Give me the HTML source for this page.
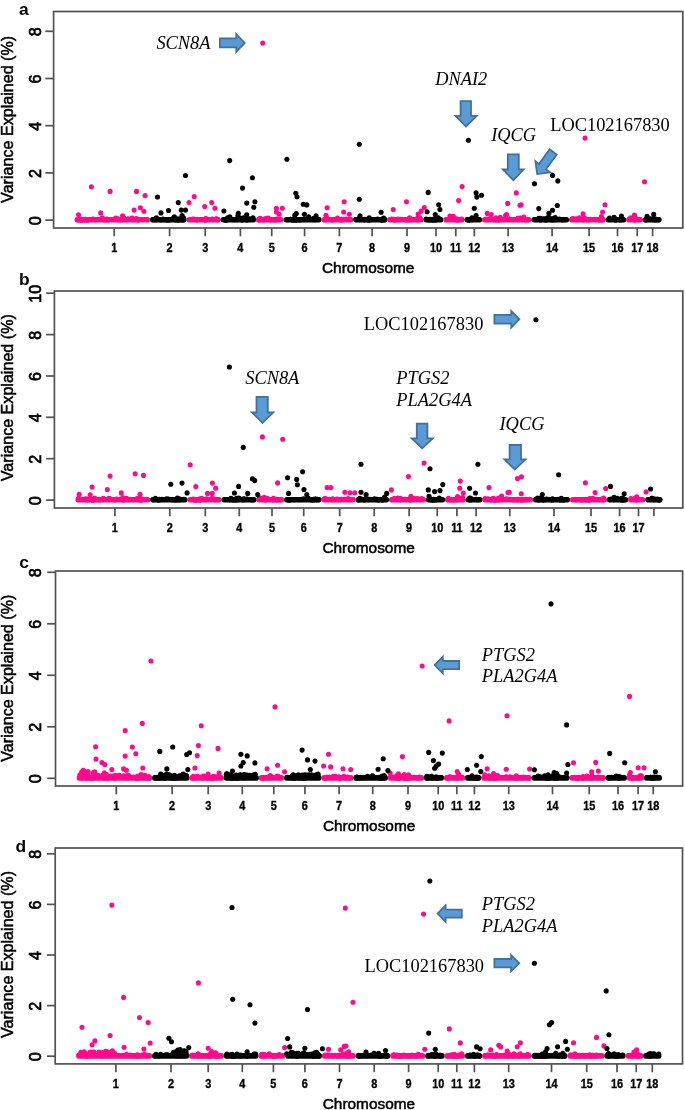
<!DOCTYPE html>
<html><head><meta charset="utf-8"><style>
html,body{margin:0;padding:0;background:#fff;width:685px;height:1110px;overflow:hidden}
svg{display:block;filter:blur(0.35px)}
.s{font-family:"Liberation Sans",sans-serif}
.w{stroke:#000;stroke-width:0.5px}
.w2{stroke:#000;stroke-width:0.7px}
.w3{stroke:#000;stroke-width:0.35px}
.t{font-family:"Liberation Serif",serif}
</style></head><body>
<svg width="685" height="1110" viewBox="0 0 685 1110">
<rect width="685" height="1110" fill="#fff"/>

<g id="pa">
<rect x="74.5" y="216.9" width="75.5" height="5.7" rx="2.5" fill="#ff0a8c"/>
<circle cx="99.8" cy="219.3" r="2.55" fill="#ff0a8c"/>
<circle cx="82.1" cy="219.7" r="2.55" fill="#ff0a8c"/>
<circle cx="81.1" cy="220.1" r="2.55" fill="#ff0a8c"/>
<circle cx="107.6" cy="220" r="2.55" fill="#ff0a8c"/>
<circle cx="106.9" cy="219" r="2.55" fill="#ff0a8c"/>
<circle cx="92.8" cy="219" r="2.55" fill="#ff0a8c"/>
<circle cx="117.7" cy="218.9" r="2.55" fill="#ff0a8c"/>
<circle cx="80.3" cy="218.7" r="2.55" fill="#ff0a8c"/>
<circle cx="87.2" cy="219.7" r="2.55" fill="#ff0a8c"/>
<circle cx="134.5" cy="219.4" r="2.55" fill="#ff0a8c"/>
<circle cx="122" cy="219.5" r="2.55" fill="#ff0a8c"/>
<circle cx="81.5" cy="219.9" r="2.55" fill="#ff0a8c"/>
<circle cx="125" cy="219.7" r="2.55" fill="#ff0a8c"/>
<circle cx="118.3" cy="219.7" r="2.55" fill="#ff0a8c"/>
<circle cx="133" cy="219.8" r="2.55" fill="#ff0a8c"/>
<circle cx="117.5" cy="219.1" r="2.55" fill="#ff0a8c"/>
<circle cx="128.4" cy="218.9" r="2.55" fill="#ff0a8c"/>
<circle cx="85.4" cy="219.2" r="2.55" fill="#ff0a8c"/>
<circle cx="87.7" cy="220.1" r="2.55" fill="#ff0a8c"/>
<circle cx="124.1" cy="218.3" r="2.55" fill="#ff0a8c"/>
<circle cx="138.7" cy="219.3" r="2.55" fill="#ff0a8c"/>
<circle cx="118.9" cy="219.6" r="2.55" fill="#ff0a8c"/>
<circle cx="136.2" cy="218.5" r="2.55" fill="#ff0a8c"/>
<circle cx="123.8" cy="219.3" r="2.55" fill="#ff0a8c"/>
<circle cx="122.6" cy="215.8" r="2.55" fill="#ff0a8c"/>
<circle cx="97.1" cy="219.3" r="2.55" fill="#ff0a8c"/>
<circle cx="78.6" cy="219.9" r="2.55" fill="#ff0a8c"/>
<circle cx="85.3" cy="219.2" r="2.55" fill="#ff0a8c"/>
<circle cx="86.2" cy="219.6" r="2.55" fill="#ff0a8c"/>
<circle cx="138.4" cy="219.6" r="2.55" fill="#ff0a8c"/>
<circle cx="115.7" cy="218" r="2.55" fill="#ff0a8c"/>
<circle cx="137.9" cy="219.6" r="2.55" fill="#ff0a8c"/>
<circle cx="102.3" cy="217.8" r="2.55" fill="#ff0a8c"/>
<circle cx="87.7" cy="219.8" r="2.55" fill="#ff0a8c"/>
<circle cx="93.5" cy="219.4" r="2.55" fill="#ff0a8c"/>
<circle cx="95.5" cy="219.6" r="2.55" fill="#ff0a8c"/>
<circle cx="103" cy="219" r="2.55" fill="#ff0a8c"/>
<circle cx="125.7" cy="219.4" r="2.55" fill="#ff0a8c"/>
<circle cx="124.7" cy="219" r="2.55" fill="#ff0a8c"/>
<circle cx="132" cy="218" r="2.55" fill="#ff0a8c"/>
<circle cx="104.7" cy="220" r="2.55" fill="#ff0a8c"/>
<circle cx="121.7" cy="220" r="2.55" fill="#ff0a8c"/>
<circle cx="91.7" cy="219.7" r="2.55" fill="#ff0a8c"/>
<circle cx="80.8" cy="219.9" r="2.55" fill="#ff0a8c"/>
<circle cx="84.2" cy="220.1" r="2.55" fill="#ff0a8c"/>
<circle cx="138.6" cy="219.9" r="2.55" fill="#ff0a8c"/>
<circle cx="94.8" cy="219.7" r="2.55" fill="#ff0a8c"/>
<rect x="150" y="216.9" width="36.6" height="5.7" rx="2.5" fill="#000"/>
<circle cx="156.4" cy="217.7" r="2.55" fill="#000"/>
<circle cx="167.2" cy="220" r="2.55" fill="#000"/>
<circle cx="155.8" cy="219.8" r="2.55" fill="#000"/>
<circle cx="178.7" cy="220.1" r="2.55" fill="#000"/>
<circle cx="182.5" cy="219.9" r="2.55" fill="#000"/>
<circle cx="169.7" cy="219.5" r="2.55" fill="#000"/>
<circle cx="183.4" cy="218.2" r="2.55" fill="#000"/>
<circle cx="160.8" cy="219.9" r="2.55" fill="#000"/>
<circle cx="176.9" cy="219.2" r="2.55" fill="#000"/>
<circle cx="162.9" cy="219.1" r="2.55" fill="#000"/>
<circle cx="183.6" cy="218" r="2.55" fill="#000"/>
<circle cx="178.3" cy="218.8" r="2.55" fill="#000"/>
<circle cx="168.9" cy="220.1" r="2.55" fill="#000"/>
<circle cx="153.4" cy="219.8" r="2.55" fill="#000"/>
<circle cx="174.4" cy="216.7" r="2.55" fill="#000"/>
<circle cx="182.1" cy="215.5" r="2.55" fill="#000"/>
<circle cx="164" cy="219.8" r="2.55" fill="#000"/>
<circle cx="158.7" cy="219.4" r="2.55" fill="#000"/>
<circle cx="180.9" cy="218.5" r="2.55" fill="#000"/>
<circle cx="173.1" cy="219" r="2.55" fill="#000"/>
<circle cx="173.4" cy="218" r="2.55" fill="#000"/>
<circle cx="176.2" cy="219.9" r="2.55" fill="#000"/>
<rect x="186.6" y="216.9" width="34" height="5.7" rx="2.5" fill="#ff0a8c"/>
<circle cx="212" cy="219.2" r="2.55" fill="#ff0a8c"/>
<circle cx="217.2" cy="219.6" r="2.55" fill="#ff0a8c"/>
<circle cx="216.5" cy="218.9" r="2.55" fill="#ff0a8c"/>
<circle cx="192.8" cy="219" r="2.55" fill="#ff0a8c"/>
<circle cx="212.5" cy="219.1" r="2.55" fill="#ff0a8c"/>
<circle cx="217.5" cy="219.7" r="2.55" fill="#ff0a8c"/>
<circle cx="205" cy="220.1" r="2.55" fill="#ff0a8c"/>
<circle cx="217.2" cy="219.5" r="2.55" fill="#ff0a8c"/>
<circle cx="216.1" cy="219.1" r="2.55" fill="#ff0a8c"/>
<circle cx="213" cy="219.8" r="2.55" fill="#ff0a8c"/>
<circle cx="197.6" cy="219.4" r="2.55" fill="#ff0a8c"/>
<circle cx="196.6" cy="219.9" r="2.55" fill="#ff0a8c"/>
<circle cx="215.4" cy="219.6" r="2.55" fill="#ff0a8c"/>
<circle cx="206" cy="218.6" r="2.55" fill="#ff0a8c"/>
<circle cx="215.7" cy="219.5" r="2.55" fill="#ff0a8c"/>
<circle cx="204.3" cy="219.6" r="2.55" fill="#ff0a8c"/>
<circle cx="194.4" cy="219.2" r="2.55" fill="#ff0a8c"/>
<circle cx="194.1" cy="219.2" r="2.55" fill="#ff0a8c"/>
<circle cx="205.2" cy="219.5" r="2.55" fill="#ff0a8c"/>
<circle cx="205.2" cy="219" r="2.55" fill="#ff0a8c"/>
<circle cx="205.3" cy="219.8" r="2.55" fill="#ff0a8c"/>
<rect x="220.6" y="216.9" width="35.4" height="5.7" rx="2.5" fill="#000"/>
<circle cx="246.5" cy="219.4" r="2.55" fill="#000"/>
<circle cx="246.2" cy="218.5" r="2.55" fill="#000"/>
<circle cx="241.7" cy="219.5" r="2.55" fill="#000"/>
<circle cx="244.1" cy="219.5" r="2.55" fill="#000"/>
<circle cx="237.6" cy="218.2" r="2.55" fill="#000"/>
<circle cx="249.7" cy="218.8" r="2.55" fill="#000"/>
<circle cx="240.1" cy="218" r="2.55" fill="#000"/>
<circle cx="227.3" cy="219.6" r="2.55" fill="#000"/>
<circle cx="225.3" cy="220" r="2.55" fill="#000"/>
<circle cx="243.4" cy="217.9" r="2.55" fill="#000"/>
<circle cx="227.8" cy="219.3" r="2.55" fill="#000"/>
<circle cx="227.5" cy="217.8" r="2.55" fill="#000"/>
<circle cx="229.8" cy="216.8" r="2.55" fill="#000"/>
<circle cx="237.9" cy="215.8" r="2.55" fill="#000"/>
<circle cx="228" cy="219.5" r="2.55" fill="#000"/>
<circle cx="233.4" cy="219.7" r="2.55" fill="#000"/>
<circle cx="245" cy="219.4" r="2.55" fill="#000"/>
<circle cx="236.5" cy="219.7" r="2.55" fill="#000"/>
<circle cx="242.1" cy="220" r="2.55" fill="#000"/>
<circle cx="253" cy="217.8" r="2.55" fill="#000"/>
<circle cx="226.3" cy="220.1" r="2.55" fill="#000"/>
<circle cx="246.8" cy="219.9" r="2.55" fill="#000"/>
<rect x="256" y="216.9" width="27.6" height="5.7" rx="2.5" fill="#ff0a8c"/>
<circle cx="268.1" cy="218" r="2.55" fill="#ff0a8c"/>
<circle cx="264.4" cy="219" r="2.55" fill="#ff0a8c"/>
<circle cx="271.4" cy="220" r="2.55" fill="#ff0a8c"/>
<circle cx="259.8" cy="219.6" r="2.55" fill="#ff0a8c"/>
<circle cx="260.2" cy="218.3" r="2.55" fill="#ff0a8c"/>
<circle cx="276.6" cy="219.1" r="2.55" fill="#ff0a8c"/>
<circle cx="260" cy="218.5" r="2.55" fill="#ff0a8c"/>
<circle cx="266.2" cy="219" r="2.55" fill="#ff0a8c"/>
<circle cx="264.6" cy="219.5" r="2.55" fill="#ff0a8c"/>
<circle cx="263.9" cy="219.9" r="2.55" fill="#ff0a8c"/>
<circle cx="259.7" cy="219.7" r="2.55" fill="#ff0a8c"/>
<circle cx="265.4" cy="218.7" r="2.55" fill="#ff0a8c"/>
<circle cx="269.8" cy="219.7" r="2.55" fill="#ff0a8c"/>
<circle cx="259" cy="220.1" r="2.55" fill="#ff0a8c"/>
<circle cx="275" cy="219.9" r="2.55" fill="#ff0a8c"/>
<circle cx="269.2" cy="219" r="2.55" fill="#ff0a8c"/>
<circle cx="277" cy="219.5" r="2.55" fill="#ff0a8c"/>
<rect x="283.6" y="216.9" width="37.9" height="5.7" rx="2.5" fill="#000"/>
<circle cx="313.5" cy="219.5" r="2.55" fill="#000"/>
<circle cx="308.7" cy="216.9" r="2.55" fill="#000"/>
<circle cx="313.4" cy="219.3" r="2.55" fill="#000"/>
<circle cx="299.4" cy="220" r="2.55" fill="#000"/>
<circle cx="290.4" cy="219.2" r="2.55" fill="#000"/>
<circle cx="294.5" cy="220" r="2.55" fill="#000"/>
<circle cx="313.7" cy="218.2" r="2.55" fill="#000"/>
<circle cx="295.4" cy="219.8" r="2.55" fill="#000"/>
<circle cx="301.2" cy="219.6" r="2.55" fill="#000"/>
<circle cx="294.8" cy="215.4" r="2.55" fill="#000"/>
<circle cx="304.1" cy="219" r="2.55" fill="#000"/>
<circle cx="296.3" cy="220.1" r="2.55" fill="#000"/>
<circle cx="298.7" cy="219.5" r="2.55" fill="#000"/>
<circle cx="292.7" cy="220.1" r="2.55" fill="#000"/>
<circle cx="294.8" cy="219.6" r="2.55" fill="#000"/>
<circle cx="287.5" cy="219.7" r="2.55" fill="#000"/>
<circle cx="293.8" cy="219.5" r="2.55" fill="#000"/>
<circle cx="310.8" cy="219.3" r="2.55" fill="#000"/>
<circle cx="315" cy="219.7" r="2.55" fill="#000"/>
<circle cx="318.4" cy="219.2" r="2.55" fill="#000"/>
<circle cx="307.2" cy="219.1" r="2.55" fill="#000"/>
<circle cx="315.4" cy="219.2" r="2.55" fill="#000"/>
<circle cx="312.8" cy="219.5" r="2.55" fill="#000"/>
<rect x="321.5" y="216.9" width="31.8" height="5.7" rx="2.5" fill="#ff0a8c"/>
<circle cx="337.5" cy="218" r="2.55" fill="#ff0a8c"/>
<circle cx="346.1" cy="219" r="2.55" fill="#ff0a8c"/>
<circle cx="342.3" cy="219.8" r="2.55" fill="#ff0a8c"/>
<circle cx="324.9" cy="219.7" r="2.55" fill="#ff0a8c"/>
<circle cx="326.9" cy="218.4" r="2.55" fill="#ff0a8c"/>
<circle cx="340.8" cy="219.3" r="2.55" fill="#ff0a8c"/>
<circle cx="337.1" cy="219.2" r="2.55" fill="#ff0a8c"/>
<circle cx="344" cy="219.5" r="2.55" fill="#ff0a8c"/>
<circle cx="341.7" cy="219.2" r="2.55" fill="#ff0a8c"/>
<circle cx="330.8" cy="219.8" r="2.55" fill="#ff0a8c"/>
<circle cx="343.5" cy="219.2" r="2.55" fill="#ff0a8c"/>
<circle cx="350.1" cy="219.6" r="2.55" fill="#ff0a8c"/>
<circle cx="336.8" cy="219.2" r="2.55" fill="#ff0a8c"/>
<circle cx="340.5" cy="220" r="2.55" fill="#ff0a8c"/>
<circle cx="328" cy="219.2" r="2.55" fill="#ff0a8c"/>
<circle cx="332.2" cy="220.1" r="2.55" fill="#ff0a8c"/>
<circle cx="325.7" cy="219.3" r="2.55" fill="#ff0a8c"/>
<circle cx="342.5" cy="219.8" r="2.55" fill="#ff0a8c"/>
<circle cx="337.8" cy="219.5" r="2.55" fill="#ff0a8c"/>
<rect x="353.3" y="216.9" width="34.1" height="5.7" rx="2.5" fill="#000"/>
<circle cx="359.3" cy="218.9" r="2.55" fill="#000"/>
<circle cx="384.2" cy="219.1" r="2.55" fill="#000"/>
<circle cx="369.2" cy="217.8" r="2.55" fill="#000"/>
<circle cx="368.9" cy="219.9" r="2.55" fill="#000"/>
<circle cx="383.3" cy="219.4" r="2.55" fill="#000"/>
<circle cx="360" cy="219" r="2.55" fill="#000"/>
<circle cx="359.7" cy="218.4" r="2.55" fill="#000"/>
<circle cx="381.6" cy="219.8" r="2.55" fill="#000"/>
<circle cx="381.9" cy="220.1" r="2.55" fill="#000"/>
<circle cx="356" cy="219.6" r="2.55" fill="#000"/>
<circle cx="364.6" cy="219.7" r="2.55" fill="#000"/>
<circle cx="365" cy="219.2" r="2.55" fill="#000"/>
<circle cx="377.6" cy="219" r="2.55" fill="#000"/>
<circle cx="382.7" cy="219" r="2.55" fill="#000"/>
<circle cx="364.3" cy="219.6" r="2.55" fill="#000"/>
<circle cx="384.8" cy="219.7" r="2.55" fill="#000"/>
<circle cx="368.3" cy="220" r="2.55" fill="#000"/>
<circle cx="358.8" cy="218.8" r="2.55" fill="#000"/>
<circle cx="383" cy="219.8" r="2.55" fill="#000"/>
<circle cx="370.7" cy="219.7" r="2.55" fill="#000"/>
<circle cx="383.6" cy="218" r="2.55" fill="#000"/>
<rect x="387.4" y="216.9" width="36.2" height="5.7" rx="2.5" fill="#ff0a8c"/>
<circle cx="409.6" cy="217.8" r="2.55" fill="#ff0a8c"/>
<circle cx="407" cy="220" r="2.55" fill="#ff0a8c"/>
<circle cx="412.7" cy="219.2" r="2.55" fill="#ff0a8c"/>
<circle cx="410" cy="220" r="2.55" fill="#ff0a8c"/>
<circle cx="418.8" cy="219.5" r="2.55" fill="#ff0a8c"/>
<circle cx="400.6" cy="219.2" r="2.55" fill="#ff0a8c"/>
<circle cx="420.3" cy="219.3" r="2.55" fill="#ff0a8c"/>
<circle cx="399.3" cy="219.6" r="2.55" fill="#ff0a8c"/>
<circle cx="395.2" cy="219.9" r="2.55" fill="#ff0a8c"/>
<circle cx="418.1" cy="219.8" r="2.55" fill="#ff0a8c"/>
<circle cx="418.1" cy="216.7" r="2.55" fill="#ff0a8c"/>
<circle cx="394.3" cy="220" r="2.55" fill="#ff0a8c"/>
<circle cx="400.6" cy="219.8" r="2.55" fill="#ff0a8c"/>
<circle cx="398" cy="219.1" r="2.55" fill="#ff0a8c"/>
<circle cx="413.3" cy="219.6" r="2.55" fill="#ff0a8c"/>
<circle cx="406.3" cy="219.7" r="2.55" fill="#ff0a8c"/>
<circle cx="391.9" cy="219" r="2.55" fill="#ff0a8c"/>
<circle cx="393.9" cy="219.4" r="2.55" fill="#ff0a8c"/>
<circle cx="416.8" cy="219.8" r="2.55" fill="#ff0a8c"/>
<circle cx="397.7" cy="219.6" r="2.55" fill="#ff0a8c"/>
<circle cx="419.6" cy="217.9" r="2.55" fill="#ff0a8c"/>
<circle cx="390.6" cy="219.3" r="2.55" fill="#ff0a8c"/>
<rect x="423.6" y="216.9" width="19.8" height="5.7" rx="2.5" fill="#000"/>
<circle cx="439.3" cy="219.4" r="2.55" fill="#000"/>
<circle cx="426.2" cy="219" r="2.55" fill="#000"/>
<circle cx="438.3" cy="217.8" r="2.55" fill="#000"/>
<circle cx="429.8" cy="219.9" r="2.55" fill="#000"/>
<circle cx="433.8" cy="219" r="2.55" fill="#000"/>
<circle cx="436.8" cy="219.2" r="2.55" fill="#000"/>
<circle cx="432.9" cy="220.1" r="2.55" fill="#000"/>
<circle cx="437.6" cy="219" r="2.55" fill="#000"/>
<circle cx="435.6" cy="219.9" r="2.55" fill="#000"/>
<circle cx="429.9" cy="219.3" r="2.55" fill="#000"/>
<circle cx="427.8" cy="219.5" r="2.55" fill="#000"/>
<circle cx="434.7" cy="219.8" r="2.55" fill="#000"/>
<rect x="443.4" y="216.9" width="21.1" height="5.7" rx="2.5" fill="#ff0a8c"/>
<circle cx="455.6" cy="219.7" r="2.55" fill="#ff0a8c"/>
<circle cx="453.3" cy="216.2" r="2.55" fill="#ff0a8c"/>
<circle cx="460.1" cy="219.8" r="2.55" fill="#ff0a8c"/>
<circle cx="449.9" cy="216.1" r="2.55" fill="#ff0a8c"/>
<circle cx="450.9" cy="219.5" r="2.55" fill="#ff0a8c"/>
<circle cx="456.7" cy="219.8" r="2.55" fill="#ff0a8c"/>
<circle cx="456.6" cy="218.8" r="2.55" fill="#ff0a8c"/>
<circle cx="446.5" cy="219.6" r="2.55" fill="#ff0a8c"/>
<circle cx="456.9" cy="219.2" r="2.55" fill="#ff0a8c"/>
<circle cx="457.8" cy="219.9" r="2.55" fill="#ff0a8c"/>
<circle cx="461.5" cy="219.1" r="2.55" fill="#ff0a8c"/>
<circle cx="449.6" cy="219.2" r="2.55" fill="#ff0a8c"/>
<circle cx="450.7" cy="216.6" r="2.55" fill="#ff0a8c"/>
<rect x="464.5" y="216.9" width="17.5" height="5.7" rx="2.5" fill="#000"/>
<circle cx="469.4" cy="219.6" r="2.55" fill="#000"/>
<circle cx="475.3" cy="218.9" r="2.55" fill="#000"/>
<circle cx="471.9" cy="219" r="2.55" fill="#000"/>
<circle cx="468.8" cy="220" r="2.55" fill="#000"/>
<circle cx="471.9" cy="217.9" r="2.55" fill="#000"/>
<circle cx="476.1" cy="215.5" r="2.55" fill="#000"/>
<circle cx="471.1" cy="219" r="2.55" fill="#000"/>
<circle cx="476.3" cy="219.3" r="2.55" fill="#000"/>
<circle cx="471.7" cy="219.7" r="2.55" fill="#000"/>
<circle cx="469.1" cy="219.8" r="2.55" fill="#000"/>
<rect x="482" y="216.9" width="49.5" height="5.7" rx="2.5" fill="#ff0a8c"/>
<circle cx="500.2" cy="217.4" r="2.55" fill="#ff0a8c"/>
<circle cx="527.4" cy="219.7" r="2.55" fill="#ff0a8c"/>
<circle cx="521" cy="218.5" r="2.55" fill="#ff0a8c"/>
<circle cx="486.7" cy="219.7" r="2.55" fill="#ff0a8c"/>
<circle cx="525.4" cy="219.7" r="2.55" fill="#ff0a8c"/>
<circle cx="524.4" cy="219.6" r="2.55" fill="#ff0a8c"/>
<circle cx="520.6" cy="219.1" r="2.55" fill="#ff0a8c"/>
<circle cx="486.1" cy="219" r="2.55" fill="#ff0a8c"/>
<circle cx="496" cy="217.9" r="2.55" fill="#ff0a8c"/>
<circle cx="499.6" cy="219" r="2.55" fill="#ff0a8c"/>
<circle cx="511.9" cy="219.3" r="2.55" fill="#ff0a8c"/>
<circle cx="498.6" cy="220.1" r="2.55" fill="#ff0a8c"/>
<circle cx="518.1" cy="218.3" r="2.55" fill="#ff0a8c"/>
<circle cx="526.4" cy="219.8" r="2.55" fill="#ff0a8c"/>
<circle cx="505.6" cy="215.5" r="2.55" fill="#ff0a8c"/>
<circle cx="501.7" cy="219.6" r="2.55" fill="#ff0a8c"/>
<circle cx="506.5" cy="218.9" r="2.55" fill="#ff0a8c"/>
<circle cx="520.2" cy="218" r="2.55" fill="#ff0a8c"/>
<circle cx="518.9" cy="219.7" r="2.55" fill="#ff0a8c"/>
<circle cx="498.7" cy="219.2" r="2.55" fill="#ff0a8c"/>
<circle cx="488.1" cy="219.2" r="2.55" fill="#ff0a8c"/>
<circle cx="495.5" cy="220.1" r="2.55" fill="#ff0a8c"/>
<circle cx="509.1" cy="218.9" r="2.55" fill="#ff0a8c"/>
<circle cx="523.8" cy="217.1" r="2.55" fill="#ff0a8c"/>
<circle cx="488.3" cy="219.5" r="2.55" fill="#ff0a8c"/>
<circle cx="516.1" cy="219.8" r="2.55" fill="#ff0a8c"/>
<circle cx="503.1" cy="219.3" r="2.55" fill="#ff0a8c"/>
<circle cx="517.8" cy="218.2" r="2.55" fill="#ff0a8c"/>
<circle cx="489.9" cy="218.7" r="2.55" fill="#ff0a8c"/>
<circle cx="509.7" cy="219.2" r="2.55" fill="#ff0a8c"/>
<rect x="531.5" y="216.9" width="37.5" height="5.7" rx="2.5" fill="#000"/>
<circle cx="540.5" cy="219.8" r="2.55" fill="#000"/>
<circle cx="539" cy="218.3" r="2.55" fill="#000"/>
<circle cx="544.6" cy="218.9" r="2.55" fill="#000"/>
<circle cx="550.5" cy="219.1" r="2.55" fill="#000"/>
<circle cx="555.2" cy="217.5" r="2.55" fill="#000"/>
<circle cx="549.4" cy="218" r="2.55" fill="#000"/>
<circle cx="563.7" cy="219.8" r="2.55" fill="#000"/>
<circle cx="537.9" cy="219" r="2.55" fill="#000"/>
<circle cx="552.9" cy="218.6" r="2.55" fill="#000"/>
<circle cx="562.1" cy="219.8" r="2.55" fill="#000"/>
<circle cx="559.2" cy="219" r="2.55" fill="#000"/>
<circle cx="553.4" cy="219.8" r="2.55" fill="#000"/>
<circle cx="546" cy="219.9" r="2.55" fill="#000"/>
<circle cx="542.3" cy="219.3" r="2.55" fill="#000"/>
<circle cx="540.6" cy="219.7" r="2.55" fill="#000"/>
<circle cx="556" cy="219.7" r="2.55" fill="#000"/>
<circle cx="540.6" cy="218.4" r="2.55" fill="#000"/>
<circle cx="536.1" cy="219.6" r="2.55" fill="#000"/>
<circle cx="551.9" cy="220" r="2.55" fill="#000"/>
<circle cx="539.4" cy="219.6" r="2.55" fill="#000"/>
<circle cx="543.2" cy="219" r="2.55" fill="#000"/>
<circle cx="544.2" cy="219.7" r="2.55" fill="#000"/>
<circle cx="547.5" cy="217.7" r="2.55" fill="#000"/>
<rect x="569" y="216.9" width="36.7" height="5.7" rx="2.5" fill="#ff0a8c"/>
<circle cx="583" cy="219.2" r="2.55" fill="#ff0a8c"/>
<circle cx="578" cy="219" r="2.55" fill="#ff0a8c"/>
<circle cx="584.9" cy="218.6" r="2.55" fill="#ff0a8c"/>
<circle cx="599.4" cy="219.9" r="2.55" fill="#ff0a8c"/>
<circle cx="572" cy="219.3" r="2.55" fill="#ff0a8c"/>
<circle cx="600.3" cy="219.4" r="2.55" fill="#ff0a8c"/>
<circle cx="583.3" cy="219.9" r="2.55" fill="#ff0a8c"/>
<circle cx="580.5" cy="219" r="2.55" fill="#ff0a8c"/>
<circle cx="575" cy="219.2" r="2.55" fill="#ff0a8c"/>
<circle cx="602.1" cy="220" r="2.55" fill="#ff0a8c"/>
<circle cx="601.4" cy="216.6" r="2.55" fill="#ff0a8c"/>
<circle cx="573.2" cy="218.6" r="2.55" fill="#ff0a8c"/>
<circle cx="600.1" cy="219.1" r="2.55" fill="#ff0a8c"/>
<circle cx="576.6" cy="218.8" r="2.55" fill="#ff0a8c"/>
<circle cx="584.3" cy="218" r="2.55" fill="#ff0a8c"/>
<circle cx="577.3" cy="219.6" r="2.55" fill="#ff0a8c"/>
<circle cx="587.9" cy="220" r="2.55" fill="#ff0a8c"/>
<circle cx="579.4" cy="217.9" r="2.55" fill="#ff0a8c"/>
<circle cx="572.8" cy="219.2" r="2.55" fill="#ff0a8c"/>
<circle cx="572.8" cy="219" r="2.55" fill="#ff0a8c"/>
<circle cx="590.5" cy="219.4" r="2.55" fill="#ff0a8c"/>
<circle cx="581.2" cy="219.4" r="2.55" fill="#ff0a8c"/>
<rect x="605.7" y="216.9" width="20.5" height="5.7" rx="2.5" fill="#000"/>
<circle cx="614.8" cy="219.6" r="2.55" fill="#000"/>
<circle cx="615" cy="219.4" r="2.55" fill="#000"/>
<circle cx="615.8" cy="219.2" r="2.55" fill="#000"/>
<circle cx="620.3" cy="219.9" r="2.55" fill="#000"/>
<circle cx="615.5" cy="219.9" r="2.55" fill="#000"/>
<circle cx="614.9" cy="219.6" r="2.55" fill="#000"/>
<circle cx="616.1" cy="219.3" r="2.55" fill="#000"/>
<circle cx="609.5" cy="218.1" r="2.55" fill="#000"/>
<circle cx="616.1" cy="219.5" r="2.55" fill="#000"/>
<circle cx="614.1" cy="217.4" r="2.55" fill="#000"/>
<circle cx="621.4" cy="216" r="2.55" fill="#000"/>
<circle cx="620.8" cy="218.9" r="2.55" fill="#000"/>
<rect x="626.2" y="216.9" width="16.8" height="5.7" rx="2.5" fill="#ff0a8c"/>
<circle cx="634.5" cy="215.6" r="2.55" fill="#ff0a8c"/>
<circle cx="630.7" cy="217.8" r="2.55" fill="#ff0a8c"/>
<circle cx="629.5" cy="219.2" r="2.55" fill="#ff0a8c"/>
<circle cx="630.6" cy="218.8" r="2.55" fill="#ff0a8c"/>
<circle cx="638.3" cy="219.5" r="2.55" fill="#ff0a8c"/>
<circle cx="639.5" cy="219.8" r="2.55" fill="#ff0a8c"/>
<circle cx="634.7" cy="220.1" r="2.55" fill="#ff0a8c"/>
<circle cx="630.9" cy="219" r="2.55" fill="#ff0a8c"/>
<circle cx="636.7" cy="218.9" r="2.55" fill="#ff0a8c"/>
<circle cx="637.9" cy="219.5" r="2.55" fill="#ff0a8c"/>
<rect x="643" y="216.9" width="18.5" height="5.7" rx="2.5" fill="#000"/>
<circle cx="654.1" cy="219.1" r="2.55" fill="#000"/>
<circle cx="653" cy="219.1" r="2.55" fill="#000"/>
<circle cx="647" cy="216.3" r="2.55" fill="#000"/>
<circle cx="650.8" cy="218.8" r="2.55" fill="#000"/>
<circle cx="658.8" cy="219.7" r="2.55" fill="#000"/>
<circle cx="655.8" cy="219.9" r="2.55" fill="#000"/>
<circle cx="655.5" cy="219.1" r="2.55" fill="#000"/>
<circle cx="648.9" cy="218.9" r="2.55" fill="#000"/>
<circle cx="653.4" cy="219.7" r="2.55" fill="#000"/>
<circle cx="645.6" cy="219.9" r="2.55" fill="#000"/>
<circle cx="653.8" cy="219.5" r="2.55" fill="#000"/>
<circle cx="91.4" cy="186.7" r="2.55" fill="#ff0a8c"/>
<circle cx="110.1" cy="191.4" r="2.55" fill="#ff0a8c"/>
<circle cx="136.5" cy="191.4" r="2.55" fill="#ff0a8c"/>
<circle cx="145.1" cy="195.6" r="2.55" fill="#ff0a8c"/>
<circle cx="100.7" cy="212.9" r="2.55" fill="#ff0a8c"/>
<circle cx="78.5" cy="214.7" r="2.55" fill="#ff0a8c"/>
<circle cx="134.1" cy="210.1" r="2.55" fill="#ff0a8c"/>
<circle cx="140.4" cy="207.7" r="2.55" fill="#ff0a8c"/>
<circle cx="143.9" cy="211.2" r="2.55" fill="#ff0a8c"/>
<circle cx="194.2" cy="196.5" r="2.55" fill="#ff0a8c"/>
<circle cx="189" cy="202.6" r="2.55" fill="#ff0a8c"/>
<circle cx="204.7" cy="206.6" r="2.55" fill="#ff0a8c"/>
<circle cx="211.7" cy="202.6" r="2.55" fill="#ff0a8c"/>
<circle cx="215" cy="208.2" r="2.55" fill="#ff0a8c"/>
<circle cx="276.4" cy="208.2" r="2.55" fill="#ff0a8c"/>
<circle cx="282.3" cy="208.2" r="2.55" fill="#ff0a8c"/>
<circle cx="276.4" cy="212" r="2.55" fill="#ff0a8c"/>
<circle cx="279.2" cy="214.3" r="2.55" fill="#ff0a8c"/>
<circle cx="327.1" cy="207.7" r="2.55" fill="#ff0a8c"/>
<circle cx="344.2" cy="201.7" r="2.55" fill="#ff0a8c"/>
<circle cx="343.7" cy="212" r="2.55" fill="#ff0a8c"/>
<circle cx="349.3" cy="214.3" r="2.55" fill="#ff0a8c"/>
<circle cx="326" cy="215.2" r="2.55" fill="#ff0a8c"/>
<circle cx="262.7" cy="43.1" r="2.55" fill="#ff0a8c"/>
<circle cx="393.2" cy="209.5" r="2.55" fill="#ff0a8c"/>
<circle cx="406.5" cy="201.8" r="2.55" fill="#ff0a8c"/>
<circle cx="424.3" cy="207.6" r="2.55" fill="#ff0a8c"/>
<circle cx="421.2" cy="211.1" r="2.55" fill="#ff0a8c"/>
<circle cx="418.2" cy="214.1" r="2.55" fill="#ff0a8c"/>
<circle cx="462.1" cy="186.6" r="2.55" fill="#ff0a8c"/>
<circle cx="458.6" cy="200.6" r="2.55" fill="#ff0a8c"/>
<circle cx="516.3" cy="192.9" r="2.55" fill="#ff0a8c"/>
<circle cx="507.7" cy="203.4" r="2.55" fill="#ff0a8c"/>
<circle cx="520" cy="205.3" r="2.55" fill="#ff0a8c"/>
<circle cx="506.5" cy="214.6" r="2.55" fill="#ff0a8c"/>
<circle cx="487.3" cy="213.4" r="2.55" fill="#ff0a8c"/>
<circle cx="491.3" cy="214.6" r="2.55" fill="#ff0a8c"/>
<circle cx="585" cy="138.1" r="2.55" fill="#ff0a8c"/>
<circle cx="644.5" cy="181.7" r="2.55" fill="#ff0a8c"/>
<circle cx="521.2" cy="204.8" r="2.55" fill="#ff0a8c"/>
<circle cx="605" cy="204.8" r="2.55" fill="#ff0a8c"/>
<circle cx="602.6" cy="212" r="2.55" fill="#ff0a8c"/>
<circle cx="583.1" cy="213.9" r="2.55" fill="#ff0a8c"/>
<circle cx="634.4" cy="215.1" r="2.55" fill="#ff0a8c"/>
<circle cx="185.5" cy="175.5" r="2.55" fill="#000"/>
<circle cx="157.5" cy="197" r="2.55" fill="#000"/>
<circle cx="178.3" cy="202.6" r="2.55" fill="#000"/>
<circle cx="168.5" cy="210.5" r="2.55" fill="#000"/>
<circle cx="181.3" cy="210.1" r="2.55" fill="#000"/>
<circle cx="185.5" cy="210.1" r="2.55" fill="#000"/>
<circle cx="161" cy="212.9" r="2.55" fill="#000"/>
<circle cx="229.7" cy="160.6" r="2.55" fill="#000"/>
<circle cx="252.4" cy="177.8" r="2.55" fill="#000"/>
<circle cx="242.5" cy="188.1" r="2.55" fill="#000"/>
<circle cx="246.7" cy="203.1" r="2.55" fill="#000"/>
<circle cx="254.9" cy="201.7" r="2.55" fill="#000"/>
<circle cx="253.8" cy="207.3" r="2.55" fill="#000"/>
<circle cx="223.9" cy="211" r="2.55" fill="#000"/>
<circle cx="238.3" cy="213.3" r="2.55" fill="#000"/>
<circle cx="246.7" cy="214.7" r="2.55" fill="#000"/>
<circle cx="286.9" cy="159.2" r="2.55" fill="#000"/>
<circle cx="295.8" cy="193.3" r="2.55" fill="#000"/>
<circle cx="297" cy="196.8" r="2.55" fill="#000"/>
<circle cx="303.3" cy="204.2" r="2.55" fill="#000"/>
<circle cx="306.8" cy="204.9" r="2.55" fill="#000"/>
<circle cx="296.3" cy="213.6" r="2.55" fill="#000"/>
<circle cx="304.4" cy="214.3" r="2.55" fill="#000"/>
<circle cx="316.1" cy="215.9" r="2.55" fill="#000"/>
<circle cx="359.3" cy="144.2" r="2.55" fill="#000"/>
<circle cx="359.3" cy="199.3" r="2.55" fill="#000"/>
<circle cx="360" cy="215.9" r="2.55" fill="#000"/>
<circle cx="468.4" cy="140.3" r="2.55" fill="#000"/>
<circle cx="381.1" cy="212.3" r="2.55" fill="#000"/>
<circle cx="428.2" cy="192.4" r="2.55" fill="#000"/>
<circle cx="438.7" cy="204.8" r="2.55" fill="#000"/>
<circle cx="439.9" cy="209.5" r="2.55" fill="#000"/>
<circle cx="427.1" cy="211.8" r="2.55" fill="#000"/>
<circle cx="435.2" cy="214.6" r="2.55" fill="#000"/>
<circle cx="476.1" cy="192.9" r="2.55" fill="#000"/>
<circle cx="481.5" cy="195.2" r="2.55" fill="#000"/>
<circle cx="476.8" cy="197.1" r="2.55" fill="#000"/>
<circle cx="474.3" cy="208.3" r="2.55" fill="#000"/>
<circle cx="534.5" cy="183.8" r="2.55" fill="#000"/>
<circle cx="552.5" cy="175.4" r="2.55" fill="#000"/>
<circle cx="557.8" cy="180.9" r="2.55" fill="#000"/>
<circle cx="538.8" cy="208.6" r="2.55" fill="#000"/>
<circle cx="557.3" cy="205.5" r="2.55" fill="#000"/>
<circle cx="552.5" cy="210.3" r="2.55" fill="#000"/>
<circle cx="548.9" cy="213.4" r="2.55" fill="#000"/>
<circle cx="653.7" cy="214.4" r="2.55" fill="#000"/>
<rect x="53.6" y="11.5" width="629.2" height="216.5" fill="none" stroke="#525252" stroke-width="1.7"/>
<line x1="45.3" y1="220.1" x2="53.6" y2="220.1" stroke="#525252" stroke-width="1.7"/>
<text class="s w2" x="0" y="0" font-size="16.1" text-anchor="middle" transform="translate(41.4 220.7) rotate(-90)">0</text>
<line x1="45.3" y1="172.9" x2="53.6" y2="172.9" stroke="#525252" stroke-width="1.7"/>
<text class="s w2" x="0" y="0" font-size="16.1" text-anchor="middle" transform="translate(41.4 173.5) rotate(-90)">2</text>
<line x1="45.3" y1="125.7" x2="53.6" y2="125.7" stroke="#525252" stroke-width="1.7"/>
<text class="s w2" x="0" y="0" font-size="16.1" text-anchor="middle" transform="translate(41.4 126.3) rotate(-90)">4</text>
<line x1="45.3" y1="78.5" x2="53.6" y2="78.5" stroke="#525252" stroke-width="1.7"/>
<text class="s w2" x="0" y="0" font-size="16.1" text-anchor="middle" transform="translate(41.4 79.1) rotate(-90)">6</text>
<line x1="45.3" y1="31.3" x2="53.6" y2="31.3" stroke="#525252" stroke-width="1.7"/>
<text class="s w2" x="0" y="0" font-size="16.1" text-anchor="middle" transform="translate(41.4 31.9) rotate(-90)">8</text>
<line x1="114.2" y1="228" x2="114.2" y2="236.3" stroke="#525252" stroke-width="1.7"/>
<text class="s w3" x="0" y="0" font-size="13" font-weight="bold" text-anchor="middle" transform="translate(114.2 252) scale(0.84 1)">1</text>
<line x1="169.6" y1="228" x2="169.6" y2="236.3" stroke="#525252" stroke-width="1.7"/>
<text class="s w3" x="0" y="0" font-size="13" font-weight="bold" text-anchor="middle" transform="translate(169.6 252) scale(0.84 1)">2</text>
<line x1="205.2" y1="228" x2="205.2" y2="236.3" stroke="#525252" stroke-width="1.7"/>
<text class="s w3" x="0" y="0" font-size="13" font-weight="bold" text-anchor="middle" transform="translate(205.2 252) scale(0.84 1)">3</text>
<line x1="240.4" y1="228" x2="240.4" y2="236.3" stroke="#525252" stroke-width="1.7"/>
<text class="s w3" x="0" y="0" font-size="13" font-weight="bold" text-anchor="middle" transform="translate(240.4 252) scale(0.84 1)">4</text>
<line x1="271.7" y1="228" x2="271.7" y2="236.3" stroke="#525252" stroke-width="1.7"/>
<text class="s w3" x="0" y="0" font-size="13" font-weight="bold" text-anchor="middle" transform="translate(271.7 252) scale(0.84 1)">5</text>
<line x1="304.6" y1="228" x2="304.6" y2="236.3" stroke="#525252" stroke-width="1.7"/>
<text class="s w3" x="0" y="0" font-size="13" font-weight="bold" text-anchor="middle" transform="translate(304.6 252) scale(0.84 1)">6</text>
<line x1="339.4" y1="228" x2="339.4" y2="236.3" stroke="#525252" stroke-width="1.7"/>
<text class="s w3" x="0" y="0" font-size="13" font-weight="bold" text-anchor="middle" transform="translate(339.4 252) scale(0.84 1)">7</text>
<line x1="372.1" y1="228" x2="372.1" y2="236.3" stroke="#525252" stroke-width="1.7"/>
<text class="s w3" x="0" y="0" font-size="13" font-weight="bold" text-anchor="middle" transform="translate(372.1 252) scale(0.84 1)">8</text>
<line x1="407" y1="228" x2="407" y2="236.3" stroke="#525252" stroke-width="1.7"/>
<text class="s w3" x="0" y="0" font-size="13" font-weight="bold" text-anchor="middle" transform="translate(407 252) scale(0.84 1)">9</text>
<line x1="436" y1="228" x2="436" y2="236.3" stroke="#525252" stroke-width="1.7"/>
<text class="s w3" x="0" y="0" font-size="13" font-weight="bold" text-anchor="middle" transform="translate(436 252) scale(0.84 1)">10</text>
<line x1="455.8" y1="228" x2="455.8" y2="236.3" stroke="#525252" stroke-width="1.7"/>
<text class="s w3" x="0" y="0" font-size="13" font-weight="bold" text-anchor="middle" transform="translate(455.8 252) scale(0.84 1)">11</text>
<line x1="474.3" y1="228" x2="474.3" y2="236.3" stroke="#525252" stroke-width="1.7"/>
<text class="s w3" x="0" y="0" font-size="13" font-weight="bold" text-anchor="middle" transform="translate(474.3 252) scale(0.84 1)">12</text>
<line x1="508.1" y1="228" x2="508.1" y2="236.3" stroke="#525252" stroke-width="1.7"/>
<text class="s w3" x="0" y="0" font-size="13" font-weight="bold" text-anchor="middle" transform="translate(508.1 252) scale(0.84 1)">13</text>
<line x1="552.1" y1="228" x2="552.1" y2="236.3" stroke="#525252" stroke-width="1.7"/>
<text class="s w3" x="0" y="0" font-size="13" font-weight="bold" text-anchor="middle" transform="translate(552.1 252) scale(0.84 1)">14</text>
<line x1="589.1" y1="228" x2="589.1" y2="236.3" stroke="#525252" stroke-width="1.7"/>
<text class="s w3" x="0" y="0" font-size="13" font-weight="bold" text-anchor="middle" transform="translate(589.1 252) scale(0.84 1)">15</text>
<line x1="617.5" y1="228" x2="617.5" y2="236.3" stroke="#525252" stroke-width="1.7"/>
<text class="s w3" x="0" y="0" font-size="13" font-weight="bold" text-anchor="middle" transform="translate(617.5 252) scale(0.84 1)">16</text>
<line x1="637.2" y1="228" x2="637.2" y2="236.3" stroke="#525252" stroke-width="1.7"/>
<text class="s w3" x="0" y="0" font-size="13" font-weight="bold" text-anchor="middle" transform="translate(637.2 252) scale(0.84 1)">17</text>
<line x1="652.6" y1="228" x2="652.6" y2="236.3" stroke="#525252" stroke-width="1.7"/>
<text class="s w3" x="0" y="0" font-size="13" font-weight="bold" text-anchor="middle" transform="translate(652.6 252) scale(0.84 1)">18</text>
<text class="s w" x="368.2" y="273" font-size="15.4" text-anchor="middle">Chromosome</text>
<text class="s w" x="0" y="0" font-size="16.1" text-anchor="middle" transform="translate(12.8 119.4) rotate(-90)">Variance Explained (%)</text>
<text class="s" x="19" y="15.4" font-size="17.4" font-weight="bold">a</text>
<text class="t" x="156.4" y="48.8" font-size="18.4" font-style="italic">SCN8A</text>
<polygon points="219.9,38.4 236.3,38.4 236.3,34.2 244.7,42.9 236.3,51.7 236.3,47.3 219.9,47.3" fill="#5b9bd5" stroke="#41719c" stroke-width="1.8"/>
<text class="t" x="435.2" y="85" font-size="18.4" font-style="italic">DNAI2</text>
<polygon points="460.6,101.1 471,101.1 471,115.8 476.7,115.8 466,126.4 455.5,115.8 460.6,115.8" fill="#5b9bd5" stroke="#41719c" stroke-width="1.8"/>
<text class="t" x="491.2" y="140.6" font-size="18.4" font-style="italic">IQCG</text>
<polygon points="507.8,154.3 518.8,154.3 518.8,169.5 523.5,169.5 513.4,180.2 502.8,169.5 507.8,169.5" fill="#5b9bd5" stroke="#41719c" stroke-width="1.8"/>
<text class="t" x="550.2" y="131.1" font-size="18.4">LOC102167830</text>
<polygon points="549.7,149.3 556.7,154.6 545.9,169.2 550.2,172.3 537.2,174.1 535.4,161.2 538.9,164.1" fill="#5b9bd5" stroke="#41719c" stroke-width="1.8"/>
</g>
<g id="pb">
<rect x="75.5" y="496.9" width="74.7" height="5.7" rx="2.5" fill="#ff0a8c"/>
<circle cx="140.4" cy="499.9" r="2.55" fill="#ff0a8c"/>
<circle cx="123.5" cy="500.1" r="2.55" fill="#ff0a8c"/>
<circle cx="102.8" cy="499.7" r="2.55" fill="#ff0a8c"/>
<circle cx="93.7" cy="499.5" r="2.55" fill="#ff0a8c"/>
<circle cx="92.3" cy="499.6" r="2.55" fill="#ff0a8c"/>
<circle cx="87.4" cy="499" r="2.55" fill="#ff0a8c"/>
<circle cx="88.4" cy="499.4" r="2.55" fill="#ff0a8c"/>
<circle cx="138.7" cy="498.8" r="2.55" fill="#ff0a8c"/>
<circle cx="96.4" cy="499.4" r="2.55" fill="#ff0a8c"/>
<circle cx="117.2" cy="499.4" r="2.55" fill="#ff0a8c"/>
<circle cx="108.9" cy="498.4" r="2.55" fill="#ff0a8c"/>
<circle cx="95.3" cy="499.2" r="2.55" fill="#ff0a8c"/>
<circle cx="115" cy="499.9" r="2.55" fill="#ff0a8c"/>
<circle cx="82.1" cy="499.3" r="2.55" fill="#ff0a8c"/>
<circle cx="116.4" cy="499.1" r="2.55" fill="#ff0a8c"/>
<circle cx="91.9" cy="499.6" r="2.55" fill="#ff0a8c"/>
<circle cx="122.7" cy="499.1" r="2.55" fill="#ff0a8c"/>
<circle cx="99.6" cy="500" r="2.55" fill="#ff0a8c"/>
<circle cx="139.9" cy="498.4" r="2.55" fill="#ff0a8c"/>
<circle cx="78.5" cy="498.3" r="2.55" fill="#ff0a8c"/>
<circle cx="110.4" cy="498.7" r="2.55" fill="#ff0a8c"/>
<circle cx="93.8" cy="499.9" r="2.55" fill="#ff0a8c"/>
<circle cx="80.8" cy="499.3" r="2.55" fill="#ff0a8c"/>
<circle cx="126.4" cy="498.4" r="2.55" fill="#ff0a8c"/>
<circle cx="96.6" cy="499.6" r="2.55" fill="#ff0a8c"/>
<circle cx="132.9" cy="499.8" r="2.55" fill="#ff0a8c"/>
<circle cx="122.7" cy="497.6" r="2.55" fill="#ff0a8c"/>
<circle cx="139.3" cy="499.8" r="2.55" fill="#ff0a8c"/>
<circle cx="94.5" cy="498.1" r="2.55" fill="#ff0a8c"/>
<circle cx="130" cy="499.2" r="2.55" fill="#ff0a8c"/>
<circle cx="100.9" cy="499.2" r="2.55" fill="#ff0a8c"/>
<circle cx="121.9" cy="499.4" r="2.55" fill="#ff0a8c"/>
<circle cx="146.2" cy="499.2" r="2.55" fill="#ff0a8c"/>
<circle cx="126.6" cy="498.7" r="2.55" fill="#ff0a8c"/>
<circle cx="128.5" cy="499.8" r="2.55" fill="#ff0a8c"/>
<circle cx="92.8" cy="500" r="2.55" fill="#ff0a8c"/>
<circle cx="141.4" cy="500.1" r="2.55" fill="#ff0a8c"/>
<circle cx="85.5" cy="498.8" r="2.55" fill="#ff0a8c"/>
<circle cx="87.9" cy="500.1" r="2.55" fill="#ff0a8c"/>
<circle cx="126.3" cy="499.4" r="2.55" fill="#ff0a8c"/>
<circle cx="129.3" cy="499.5" r="2.55" fill="#ff0a8c"/>
<circle cx="103.3" cy="498.3" r="2.55" fill="#ff0a8c"/>
<circle cx="140.1" cy="499.2" r="2.55" fill="#ff0a8c"/>
<circle cx="141.7" cy="499.1" r="2.55" fill="#ff0a8c"/>
<circle cx="92.4" cy="500.1" r="2.55" fill="#ff0a8c"/>
<circle cx="137.1" cy="498.5" r="2.55" fill="#ff0a8c"/>
<rect x="150.2" y="496.9" width="37.4" height="5.7" rx="2.5" fill="#000"/>
<circle cx="179.4" cy="499.8" r="2.55" fill="#000"/>
<circle cx="156" cy="499.3" r="2.55" fill="#000"/>
<circle cx="159.4" cy="499.7" r="2.55" fill="#000"/>
<circle cx="153.4" cy="499.8" r="2.55" fill="#000"/>
<circle cx="175.9" cy="499.8" r="2.55" fill="#000"/>
<circle cx="183.9" cy="499.2" r="2.55" fill="#000"/>
<circle cx="172.7" cy="499.7" r="2.55" fill="#000"/>
<circle cx="166.8" cy="498.8" r="2.55" fill="#000"/>
<circle cx="175.5" cy="499.9" r="2.55" fill="#000"/>
<circle cx="180.6" cy="499.3" r="2.55" fill="#000"/>
<circle cx="158.3" cy="499.9" r="2.55" fill="#000"/>
<circle cx="177.4" cy="498" r="2.55" fill="#000"/>
<circle cx="168.6" cy="499.3" r="2.55" fill="#000"/>
<circle cx="158.7" cy="499.7" r="2.55" fill="#000"/>
<circle cx="179.6" cy="499.1" r="2.55" fill="#000"/>
<circle cx="161.9" cy="499.4" r="2.55" fill="#000"/>
<circle cx="168.8" cy="499.4" r="2.55" fill="#000"/>
<circle cx="155.4" cy="498.4" r="2.55" fill="#000"/>
<circle cx="178.2" cy="499.7" r="2.55" fill="#000"/>
<circle cx="165.7" cy="499.2" r="2.55" fill="#000"/>
<circle cx="155.5" cy="499.2" r="2.55" fill="#000"/>
<circle cx="159.4" cy="499.2" r="2.55" fill="#000"/>
<circle cx="168.9" cy="499.2" r="2.55" fill="#000"/>
<rect x="187.6" y="496.9" width="33.9" height="5.7" rx="2.5" fill="#ff0a8c"/>
<circle cx="196.9" cy="499.6" r="2.55" fill="#ff0a8c"/>
<circle cx="211.9" cy="498.5" r="2.55" fill="#ff0a8c"/>
<circle cx="200.2" cy="499.9" r="2.55" fill="#ff0a8c"/>
<circle cx="214.4" cy="499.3" r="2.55" fill="#ff0a8c"/>
<circle cx="195" cy="499.3" r="2.55" fill="#ff0a8c"/>
<circle cx="206.8" cy="499.6" r="2.55" fill="#ff0a8c"/>
<circle cx="215.6" cy="499.9" r="2.55" fill="#ff0a8c"/>
<circle cx="198.8" cy="499.2" r="2.55" fill="#ff0a8c"/>
<circle cx="194.6" cy="499.8" r="2.55" fill="#ff0a8c"/>
<circle cx="199.6" cy="499.9" r="2.55" fill="#ff0a8c"/>
<circle cx="199.6" cy="499.1" r="2.55" fill="#ff0a8c"/>
<circle cx="211.1" cy="499.1" r="2.55" fill="#ff0a8c"/>
<circle cx="193.1" cy="499.1" r="2.55" fill="#ff0a8c"/>
<circle cx="213" cy="498.7" r="2.55" fill="#ff0a8c"/>
<circle cx="195.8" cy="500" r="2.55" fill="#ff0a8c"/>
<circle cx="196.1" cy="500.1" r="2.55" fill="#ff0a8c"/>
<circle cx="201.6" cy="498.4" r="2.55" fill="#ff0a8c"/>
<circle cx="204.6" cy="499.6" r="2.55" fill="#ff0a8c"/>
<circle cx="194.2" cy="499.7" r="2.55" fill="#ff0a8c"/>
<circle cx="211.5" cy="498.7" r="2.55" fill="#ff0a8c"/>
<circle cx="206.7" cy="498.7" r="2.55" fill="#ff0a8c"/>
<rect x="221.5" y="496.9" width="35.1" height="5.7" rx="2.5" fill="#000"/>
<circle cx="230.9" cy="498.2" r="2.55" fill="#000"/>
<circle cx="247.3" cy="499.2" r="2.55" fill="#000"/>
<circle cx="244.4" cy="499.6" r="2.55" fill="#000"/>
<circle cx="233.4" cy="500" r="2.55" fill="#000"/>
<circle cx="236.6" cy="498.4" r="2.55" fill="#000"/>
<circle cx="242.9" cy="499.7" r="2.55" fill="#000"/>
<circle cx="237.7" cy="499.7" r="2.55" fill="#000"/>
<circle cx="244.3" cy="499" r="2.55" fill="#000"/>
<circle cx="243.7" cy="498.8" r="2.55" fill="#000"/>
<circle cx="238.7" cy="498" r="2.55" fill="#000"/>
<circle cx="240.4" cy="499.3" r="2.55" fill="#000"/>
<circle cx="252.3" cy="500" r="2.55" fill="#000"/>
<circle cx="241.3" cy="499.4" r="2.55" fill="#000"/>
<circle cx="239.4" cy="499.2" r="2.55" fill="#000"/>
<circle cx="239.7" cy="499.1" r="2.55" fill="#000"/>
<circle cx="230.4" cy="499.7" r="2.55" fill="#000"/>
<circle cx="246.9" cy="499.1" r="2.55" fill="#000"/>
<circle cx="234.7" cy="499.8" r="2.55" fill="#000"/>
<circle cx="236" cy="499.7" r="2.55" fill="#000"/>
<circle cx="236.7" cy="499.7" r="2.55" fill="#000"/>
<circle cx="232" cy="499.3" r="2.55" fill="#000"/>
<rect x="256.6" y="496.9" width="27.5" height="5.7" rx="2.5" fill="#ff0a8c"/>
<circle cx="280.2" cy="499.9" r="2.55" fill="#ff0a8c"/>
<circle cx="277.1" cy="499.9" r="2.55" fill="#ff0a8c"/>
<circle cx="262" cy="498.3" r="2.55" fill="#ff0a8c"/>
<circle cx="273.4" cy="499.5" r="2.55" fill="#ff0a8c"/>
<circle cx="264.2" cy="497.3" r="2.55" fill="#ff0a8c"/>
<circle cx="273.5" cy="498.3" r="2.55" fill="#ff0a8c"/>
<circle cx="269.6" cy="499.5" r="2.55" fill="#ff0a8c"/>
<circle cx="262" cy="498.8" r="2.55" fill="#ff0a8c"/>
<circle cx="278.2" cy="499.7" r="2.55" fill="#ff0a8c"/>
<circle cx="264.8" cy="499.9" r="2.55" fill="#ff0a8c"/>
<circle cx="259.2" cy="498.9" r="2.55" fill="#ff0a8c"/>
<circle cx="264.6" cy="499.6" r="2.55" fill="#ff0a8c"/>
<circle cx="268.7" cy="499.4" r="2.55" fill="#ff0a8c"/>
<circle cx="267.3" cy="498.2" r="2.55" fill="#ff0a8c"/>
<circle cx="260.4" cy="498.1" r="2.55" fill="#ff0a8c"/>
<circle cx="276.7" cy="499.2" r="2.55" fill="#ff0a8c"/>
<circle cx="273.3" cy="500.1" r="2.55" fill="#ff0a8c"/>
<rect x="284.1" y="496.9" width="37.4" height="5.7" rx="2.5" fill="#000"/>
<circle cx="317.4" cy="499.8" r="2.55" fill="#000"/>
<circle cx="289.9" cy="499.9" r="2.55" fill="#000"/>
<circle cx="311.7" cy="499.9" r="2.55" fill="#000"/>
<circle cx="315.9" cy="499.1" r="2.55" fill="#000"/>
<circle cx="315.4" cy="499.3" r="2.55" fill="#000"/>
<circle cx="308.2" cy="498.3" r="2.55" fill="#000"/>
<circle cx="313.7" cy="499.4" r="2.55" fill="#000"/>
<circle cx="303.8" cy="498.7" r="2.55" fill="#000"/>
<circle cx="315.2" cy="499.8" r="2.55" fill="#000"/>
<circle cx="294.2" cy="499.6" r="2.55" fill="#000"/>
<circle cx="288.5" cy="500" r="2.55" fill="#000"/>
<circle cx="302.5" cy="499.5" r="2.55" fill="#000"/>
<circle cx="314.5" cy="499.2" r="2.55" fill="#000"/>
<circle cx="301.8" cy="499.4" r="2.55" fill="#000"/>
<circle cx="313.8" cy="499.7" r="2.55" fill="#000"/>
<circle cx="317.7" cy="499.4" r="2.55" fill="#000"/>
<circle cx="307.2" cy="499.5" r="2.55" fill="#000"/>
<circle cx="308.7" cy="498.9" r="2.55" fill="#000"/>
<circle cx="318.4" cy="499.6" r="2.55" fill="#000"/>
<circle cx="315.6" cy="499.4" r="2.55" fill="#000"/>
<circle cx="306.8" cy="499.2" r="2.55" fill="#000"/>
<circle cx="298.5" cy="499.6" r="2.55" fill="#000"/>
<circle cx="311.5" cy="499.6" r="2.55" fill="#000"/>
<rect x="321.5" y="496.9" width="34.3" height="5.7" rx="2.5" fill="#ff0a8c"/>
<circle cx="336.4" cy="499.2" r="2.55" fill="#ff0a8c"/>
<circle cx="332.6" cy="498.8" r="2.55" fill="#ff0a8c"/>
<circle cx="338.8" cy="499.6" r="2.55" fill="#ff0a8c"/>
<circle cx="352.5" cy="499.3" r="2.55" fill="#ff0a8c"/>
<circle cx="333.7" cy="499.8" r="2.55" fill="#ff0a8c"/>
<circle cx="341.2" cy="499.3" r="2.55" fill="#ff0a8c"/>
<circle cx="325.2" cy="498.2" r="2.55" fill="#ff0a8c"/>
<circle cx="340" cy="499.8" r="2.55" fill="#ff0a8c"/>
<circle cx="324.2" cy="499.1" r="2.55" fill="#ff0a8c"/>
<circle cx="341.8" cy="499.3" r="2.55" fill="#ff0a8c"/>
<circle cx="350.6" cy="499.5" r="2.55" fill="#ff0a8c"/>
<circle cx="342.4" cy="499.5" r="2.55" fill="#ff0a8c"/>
<circle cx="343.9" cy="499.4" r="2.55" fill="#ff0a8c"/>
<circle cx="337.4" cy="499.1" r="2.55" fill="#ff0a8c"/>
<circle cx="329.3" cy="499.3" r="2.55" fill="#ff0a8c"/>
<circle cx="350.7" cy="499.7" r="2.55" fill="#ff0a8c"/>
<circle cx="348.1" cy="498.6" r="2.55" fill="#ff0a8c"/>
<circle cx="331.6" cy="499.7" r="2.55" fill="#ff0a8c"/>
<circle cx="333.3" cy="499.4" r="2.55" fill="#ff0a8c"/>
<circle cx="351.3" cy="499.5" r="2.55" fill="#ff0a8c"/>
<circle cx="325.2" cy="499.3" r="2.55" fill="#ff0a8c"/>
<rect x="355.8" y="496.9" width="33.2" height="5.7" rx="2.5" fill="#000"/>
<circle cx="374.5" cy="498.7" r="2.55" fill="#000"/>
<circle cx="358.7" cy="499.5" r="2.55" fill="#000"/>
<circle cx="384.7" cy="497" r="2.55" fill="#000"/>
<circle cx="369.9" cy="499.4" r="2.55" fill="#000"/>
<circle cx="364.3" cy="500.1" r="2.55" fill="#000"/>
<circle cx="358.5" cy="500" r="2.55" fill="#000"/>
<circle cx="385.5" cy="499.2" r="2.55" fill="#000"/>
<circle cx="362" cy="499.4" r="2.55" fill="#000"/>
<circle cx="365.2" cy="499" r="2.55" fill="#000"/>
<circle cx="359.8" cy="498.4" r="2.55" fill="#000"/>
<circle cx="382.4" cy="499.2" r="2.55" fill="#000"/>
<circle cx="376" cy="499.6" r="2.55" fill="#000"/>
<circle cx="384.5" cy="499.1" r="2.55" fill="#000"/>
<circle cx="378.5" cy="500.1" r="2.55" fill="#000"/>
<circle cx="376.6" cy="499.2" r="2.55" fill="#000"/>
<circle cx="367.1" cy="499.1" r="2.55" fill="#000"/>
<circle cx="382.5" cy="500" r="2.55" fill="#000"/>
<circle cx="368.7" cy="499.6" r="2.55" fill="#000"/>
<circle cx="377.4" cy="499.3" r="2.55" fill="#000"/>
<circle cx="368.6" cy="499.4" r="2.55" fill="#000"/>
<rect x="389" y="496.9" width="37" height="5.7" rx="2.5" fill="#ff0a8c"/>
<circle cx="404.9" cy="499.3" r="2.55" fill="#ff0a8c"/>
<circle cx="421.7" cy="498.6" r="2.55" fill="#ff0a8c"/>
<circle cx="400.9" cy="499.1" r="2.55" fill="#ff0a8c"/>
<circle cx="414" cy="498.9" r="2.55" fill="#ff0a8c"/>
<circle cx="410.9" cy="496.3" r="2.55" fill="#ff0a8c"/>
<circle cx="410.7" cy="499.7" r="2.55" fill="#ff0a8c"/>
<circle cx="419.9" cy="499.4" r="2.55" fill="#ff0a8c"/>
<circle cx="410.7" cy="498.3" r="2.55" fill="#ff0a8c"/>
<circle cx="400.6" cy="499.8" r="2.55" fill="#ff0a8c"/>
<circle cx="405" cy="499.3" r="2.55" fill="#ff0a8c"/>
<circle cx="419.9" cy="499.2" r="2.55" fill="#ff0a8c"/>
<circle cx="417.4" cy="498.6" r="2.55" fill="#ff0a8c"/>
<circle cx="400.3" cy="498.3" r="2.55" fill="#ff0a8c"/>
<circle cx="413.4" cy="498.8" r="2.55" fill="#ff0a8c"/>
<circle cx="394.3" cy="499.3" r="2.55" fill="#ff0a8c"/>
<circle cx="397.9" cy="498.1" r="2.55" fill="#ff0a8c"/>
<circle cx="399" cy="499.4" r="2.55" fill="#ff0a8c"/>
<circle cx="406.4" cy="499.8" r="2.55" fill="#ff0a8c"/>
<circle cx="415.5" cy="498.7" r="2.55" fill="#ff0a8c"/>
<circle cx="394.3" cy="498.3" r="2.55" fill="#ff0a8c"/>
<circle cx="399" cy="499.2" r="2.55" fill="#ff0a8c"/>
<circle cx="419.8" cy="499.6" r="2.55" fill="#ff0a8c"/>
<circle cx="410.3" cy="499.9" r="2.55" fill="#ff0a8c"/>
<rect x="426" y="496.9" width="19.1" height="5.7" rx="2.5" fill="#000"/>
<circle cx="431.1" cy="499.7" r="2.55" fill="#000"/>
<circle cx="436.5" cy="499.6" r="2.55" fill="#000"/>
<circle cx="430.6" cy="499.1" r="2.55" fill="#000"/>
<circle cx="433.8" cy="499.4" r="2.55" fill="#000"/>
<circle cx="439.6" cy="499.5" r="2.55" fill="#000"/>
<circle cx="433.4" cy="500.1" r="2.55" fill="#000"/>
<circle cx="429" cy="496.2" r="2.55" fill="#000"/>
<circle cx="435.4" cy="499.8" r="2.55" fill="#000"/>
<circle cx="439.5" cy="499.1" r="2.55" fill="#000"/>
<circle cx="439.3" cy="498.1" r="2.55" fill="#000"/>
<circle cx="432.1" cy="499.9" r="2.55" fill="#000"/>
<rect x="445.1" y="496.9" width="20.6" height="5.7" rx="2.5" fill="#ff0a8c"/>
<circle cx="450.5" cy="500" r="2.55" fill="#ff0a8c"/>
<circle cx="456.3" cy="498.7" r="2.55" fill="#ff0a8c"/>
<circle cx="462.3" cy="499.2" r="2.55" fill="#ff0a8c"/>
<circle cx="456.9" cy="500" r="2.55" fill="#ff0a8c"/>
<circle cx="462.5" cy="499.5" r="2.55" fill="#ff0a8c"/>
<circle cx="457.6" cy="496.6" r="2.55" fill="#ff0a8c"/>
<circle cx="453.7" cy="499.9" r="2.55" fill="#ff0a8c"/>
<circle cx="462.6" cy="497.6" r="2.55" fill="#ff0a8c"/>
<circle cx="448.2" cy="499.7" r="2.55" fill="#ff0a8c"/>
<circle cx="461.6" cy="498.2" r="2.55" fill="#ff0a8c"/>
<circle cx="448.4" cy="498.4" r="2.55" fill="#ff0a8c"/>
<circle cx="457.7" cy="497.9" r="2.55" fill="#ff0a8c"/>
<rect x="465.7" y="496.9" width="16.8" height="5.7" rx="2.5" fill="#000"/>
<circle cx="469.9" cy="498.1" r="2.55" fill="#000"/>
<circle cx="476.2" cy="499.5" r="2.55" fill="#000"/>
<circle cx="477.1" cy="499.8" r="2.55" fill="#000"/>
<circle cx="471.3" cy="499.6" r="2.55" fill="#000"/>
<circle cx="470.2" cy="500" r="2.55" fill="#000"/>
<circle cx="476.2" cy="499.4" r="2.55" fill="#000"/>
<circle cx="470.5" cy="499.1" r="2.55" fill="#000"/>
<circle cx="470.8" cy="498.2" r="2.55" fill="#000"/>
<circle cx="478.6" cy="499.6" r="2.55" fill="#000"/>
<circle cx="469.4" cy="498.2" r="2.55" fill="#000"/>
<rect x="482.5" y="496.9" width="50.6" height="5.7" rx="2.5" fill="#ff0a8c"/>
<circle cx="513.6" cy="499.7" r="2.55" fill="#ff0a8c"/>
<circle cx="522.5" cy="499.5" r="2.55" fill="#ff0a8c"/>
<circle cx="491.5" cy="500" r="2.55" fill="#ff0a8c"/>
<circle cx="517.5" cy="500" r="2.55" fill="#ff0a8c"/>
<circle cx="524.7" cy="499.7" r="2.55" fill="#ff0a8c"/>
<circle cx="492.1" cy="499.2" r="2.55" fill="#ff0a8c"/>
<circle cx="500.3" cy="499.6" r="2.55" fill="#ff0a8c"/>
<circle cx="499.5" cy="499.1" r="2.55" fill="#ff0a8c"/>
<circle cx="529.6" cy="499.2" r="2.55" fill="#ff0a8c"/>
<circle cx="515.5" cy="499.6" r="2.55" fill="#ff0a8c"/>
<circle cx="498.1" cy="499.9" r="2.55" fill="#ff0a8c"/>
<circle cx="501.6" cy="496" r="2.55" fill="#ff0a8c"/>
<circle cx="527.1" cy="499.8" r="2.55" fill="#ff0a8c"/>
<circle cx="525.8" cy="499.3" r="2.55" fill="#ff0a8c"/>
<circle cx="498.4" cy="498" r="2.55" fill="#ff0a8c"/>
<circle cx="521.8" cy="500" r="2.55" fill="#ff0a8c"/>
<circle cx="485.1" cy="498.6" r="2.55" fill="#ff0a8c"/>
<circle cx="493.5" cy="499.2" r="2.55" fill="#ff0a8c"/>
<circle cx="495" cy="500" r="2.55" fill="#ff0a8c"/>
<circle cx="493.2" cy="498.4" r="2.55" fill="#ff0a8c"/>
<circle cx="494" cy="500" r="2.55" fill="#ff0a8c"/>
<circle cx="512.7" cy="499.8" r="2.55" fill="#ff0a8c"/>
<circle cx="494.4" cy="499.4" r="2.55" fill="#ff0a8c"/>
<circle cx="522" cy="499.9" r="2.55" fill="#ff0a8c"/>
<circle cx="488" cy="498.8" r="2.55" fill="#ff0a8c"/>
<circle cx="517.9" cy="499.3" r="2.55" fill="#ff0a8c"/>
<circle cx="500.3" cy="498.2" r="2.55" fill="#ff0a8c"/>
<circle cx="507.5" cy="499.2" r="2.55" fill="#ff0a8c"/>
<circle cx="506.7" cy="498.9" r="2.55" fill="#ff0a8c"/>
<circle cx="493.5" cy="498.8" r="2.55" fill="#ff0a8c"/>
<circle cx="492.5" cy="499.5" r="2.55" fill="#ff0a8c"/>
<rect x="533.1" y="496.9" width="36.9" height="5.7" rx="2.5" fill="#000"/>
<circle cx="535.8" cy="499.6" r="2.55" fill="#000"/>
<circle cx="552" cy="499.4" r="2.55" fill="#000"/>
<circle cx="561.6" cy="498.9" r="2.55" fill="#000"/>
<circle cx="558.3" cy="499.3" r="2.55" fill="#000"/>
<circle cx="537.6" cy="498.1" r="2.55" fill="#000"/>
<circle cx="551.4" cy="499.6" r="2.55" fill="#000"/>
<circle cx="552.7" cy="499.1" r="2.55" fill="#000"/>
<circle cx="542.8" cy="500" r="2.55" fill="#000"/>
<circle cx="543.6" cy="499.2" r="2.55" fill="#000"/>
<circle cx="538.7" cy="499.9" r="2.55" fill="#000"/>
<circle cx="536.2" cy="499.5" r="2.55" fill="#000"/>
<circle cx="552.3" cy="500" r="2.55" fill="#000"/>
<circle cx="563.3" cy="500.1" r="2.55" fill="#000"/>
<circle cx="539.6" cy="499.6" r="2.55" fill="#000"/>
<circle cx="544.5" cy="499.7" r="2.55" fill="#000"/>
<circle cx="540" cy="499.2" r="2.55" fill="#000"/>
<circle cx="540.3" cy="499.3" r="2.55" fill="#000"/>
<circle cx="540.9" cy="498.1" r="2.55" fill="#000"/>
<circle cx="548" cy="499.2" r="2.55" fill="#000"/>
<circle cx="552.4" cy="499.1" r="2.55" fill="#000"/>
<circle cx="560.4" cy="499.9" r="2.55" fill="#000"/>
<circle cx="546.3" cy="499.1" r="2.55" fill="#000"/>
<circle cx="561.2" cy="498.3" r="2.55" fill="#000"/>
<rect x="570" y="496.9" width="37" height="5.7" rx="2.5" fill="#ff0a8c"/>
<circle cx="599.6" cy="499.6" r="2.55" fill="#ff0a8c"/>
<circle cx="603.1" cy="499" r="2.55" fill="#ff0a8c"/>
<circle cx="586" cy="499.7" r="2.55" fill="#ff0a8c"/>
<circle cx="589.5" cy="499.7" r="2.55" fill="#ff0a8c"/>
<circle cx="588.7" cy="500" r="2.55" fill="#ff0a8c"/>
<circle cx="603.5" cy="498.1" r="2.55" fill="#ff0a8c"/>
<circle cx="592.7" cy="498.2" r="2.55" fill="#ff0a8c"/>
<circle cx="600.8" cy="499.4" r="2.55" fill="#ff0a8c"/>
<circle cx="581" cy="499.8" r="2.55" fill="#ff0a8c"/>
<circle cx="589.8" cy="498.5" r="2.55" fill="#ff0a8c"/>
<circle cx="580.5" cy="499.7" r="2.55" fill="#ff0a8c"/>
<circle cx="602.9" cy="499.8" r="2.55" fill="#ff0a8c"/>
<circle cx="593.2" cy="499.5" r="2.55" fill="#ff0a8c"/>
<circle cx="603" cy="499.8" r="2.55" fill="#ff0a8c"/>
<circle cx="587.4" cy="499.9" r="2.55" fill="#ff0a8c"/>
<circle cx="576.5" cy="499.8" r="2.55" fill="#ff0a8c"/>
<circle cx="585.5" cy="499.8" r="2.55" fill="#ff0a8c"/>
<circle cx="575.4" cy="499.2" r="2.55" fill="#ff0a8c"/>
<circle cx="592" cy="499.4" r="2.55" fill="#ff0a8c"/>
<circle cx="579" cy="499.6" r="2.55" fill="#ff0a8c"/>
<circle cx="590" cy="499.6" r="2.55" fill="#ff0a8c"/>
<circle cx="582.5" cy="499.9" r="2.55" fill="#ff0a8c"/>
<circle cx="588.9" cy="499.5" r="2.55" fill="#ff0a8c"/>
<rect x="607" y="496.9" width="21.2" height="5.7" rx="2.5" fill="#000"/>
<circle cx="609.7" cy="499.2" r="2.55" fill="#000"/>
<circle cx="613.4" cy="499.6" r="2.55" fill="#000"/>
<circle cx="614.1" cy="497.4" r="2.55" fill="#000"/>
<circle cx="622" cy="500" r="2.55" fill="#000"/>
<circle cx="623.6" cy="500" r="2.55" fill="#000"/>
<circle cx="615.8" cy="499.3" r="2.55" fill="#000"/>
<circle cx="611.3" cy="499.1" r="2.55" fill="#000"/>
<circle cx="621.4" cy="499.8" r="2.55" fill="#000"/>
<circle cx="615.2" cy="499.5" r="2.55" fill="#000"/>
<circle cx="623.2" cy="498.6" r="2.55" fill="#000"/>
<circle cx="621.4" cy="498.3" r="2.55" fill="#000"/>
<circle cx="617.2" cy="498.4" r="2.55" fill="#000"/>
<circle cx="624.3" cy="499.2" r="2.55" fill="#000"/>
<rect x="628.2" y="496.9" width="17.1" height="5.7" rx="2.5" fill="#ff0a8c"/>
<circle cx="630.8" cy="498.5" r="2.55" fill="#ff0a8c"/>
<circle cx="636.7" cy="496.8" r="2.55" fill="#ff0a8c"/>
<circle cx="635.8" cy="498.2" r="2.55" fill="#ff0a8c"/>
<circle cx="638" cy="499.6" r="2.55" fill="#ff0a8c"/>
<circle cx="636.2" cy="498.9" r="2.55" fill="#ff0a8c"/>
<circle cx="635.4" cy="499.7" r="2.55" fill="#ff0a8c"/>
<circle cx="634.6" cy="498.2" r="2.55" fill="#ff0a8c"/>
<circle cx="636.7" cy="499.9" r="2.55" fill="#ff0a8c"/>
<circle cx="634.4" cy="499.5" r="2.55" fill="#ff0a8c"/>
<circle cx="637.7" cy="499.1" r="2.55" fill="#ff0a8c"/>
<rect x="645.3" y="496.9" width="17.2" height="5.7" rx="2.5" fill="#000"/>
<circle cx="651.8" cy="498.2" r="2.55" fill="#000"/>
<circle cx="659.5" cy="499.7" r="2.55" fill="#000"/>
<circle cx="658.9" cy="500.1" r="2.55" fill="#000"/>
<circle cx="654.7" cy="499.1" r="2.55" fill="#000"/>
<circle cx="657.2" cy="499.1" r="2.55" fill="#000"/>
<circle cx="654.1" cy="499.4" r="2.55" fill="#000"/>
<circle cx="652.6" cy="499.5" r="2.55" fill="#000"/>
<circle cx="652.1" cy="498.4" r="2.55" fill="#000"/>
<circle cx="654.2" cy="499.7" r="2.55" fill="#000"/>
<circle cx="652.7" cy="499.5" r="2.55" fill="#000"/>
<circle cx="92.1" cy="487" r="2.55" fill="#ff0a8c"/>
<circle cx="110.1" cy="476.1" r="2.55" fill="#ff0a8c"/>
<circle cx="107.3" cy="489.6" r="2.55" fill="#ff0a8c"/>
<circle cx="135.1" cy="473.7" r="2.55" fill="#ff0a8c"/>
<circle cx="143.5" cy="475.4" r="2.55" fill="#ff0a8c"/>
<circle cx="79.2" cy="494.3" r="2.55" fill="#ff0a8c"/>
<circle cx="90.2" cy="494.7" r="2.55" fill="#ff0a8c"/>
<circle cx="121.3" cy="492.9" r="2.55" fill="#ff0a8c"/>
<circle cx="140" cy="494.3" r="2.55" fill="#ff0a8c"/>
<circle cx="190.2" cy="464.8" r="2.55" fill="#ff0a8c"/>
<circle cx="195.8" cy="486.6" r="2.55" fill="#ff0a8c"/>
<circle cx="212.4" cy="483.1" r="2.55" fill="#ff0a8c"/>
<circle cx="262.4" cy="436.9" r="2.55" fill="#ff0a8c"/>
<circle cx="282.7" cy="439.2" r="2.55" fill="#ff0a8c"/>
<circle cx="215.7" cy="488.3" r="2.55" fill="#ff0a8c"/>
<circle cx="277.6" cy="482.9" r="2.55" fill="#ff0a8c"/>
<circle cx="327.1" cy="487.6" r="2.55" fill="#ff0a8c"/>
<circle cx="330.8" cy="487.6" r="2.55" fill="#ff0a8c"/>
<circle cx="344.9" cy="492.3" r="2.55" fill="#ff0a8c"/>
<circle cx="350" cy="492.7" r="2.55" fill="#ff0a8c"/>
<circle cx="354.7" cy="492.7" r="2.55" fill="#ff0a8c"/>
<circle cx="207.5" cy="493.4" r="2.55" fill="#ff0a8c"/>
<circle cx="212.2" cy="493.4" r="2.55" fill="#ff0a8c"/>
<circle cx="424.1" cy="463.1" r="2.55" fill="#ff0a8c"/>
<circle cx="408.4" cy="476.6" r="2.55" fill="#ff0a8c"/>
<circle cx="460.3" cy="481.1" r="2.55" fill="#ff0a8c"/>
<circle cx="459.8" cy="488.3" r="2.55" fill="#ff0a8c"/>
<circle cx="489" cy="487.6" r="2.55" fill="#ff0a8c"/>
<circle cx="391.4" cy="489.9" r="2.55" fill="#ff0a8c"/>
<circle cx="463.3" cy="493" r="2.55" fill="#ff0a8c"/>
<circle cx="509.3" cy="492.3" r="2.55" fill="#ff0a8c"/>
<circle cx="517.5" cy="478.5" r="2.55" fill="#ff0a8c"/>
<circle cx="521.5" cy="476.8" r="2.55" fill="#ff0a8c"/>
<circle cx="585.4" cy="482.7" r="2.55" fill="#ff0a8c"/>
<circle cx="605.7" cy="488.5" r="2.55" fill="#ff0a8c"/>
<circle cx="595.1" cy="492.5" r="2.55" fill="#ff0a8c"/>
<circle cx="508" cy="492.5" r="2.55" fill="#ff0a8c"/>
<circle cx="521.2" cy="493.8" r="2.55" fill="#ff0a8c"/>
<circle cx="646.1" cy="491.9" r="2.55" fill="#ff0a8c"/>
<circle cx="170.8" cy="484.2" r="2.55" fill="#000"/>
<circle cx="182" cy="483.1" r="2.55" fill="#000"/>
<circle cx="187.1" cy="492.9" r="2.55" fill="#000"/>
<circle cx="229.4" cy="367" r="2.55" fill="#000"/>
<circle cx="243.2" cy="447.4" r="2.55" fill="#000"/>
<circle cx="252.4" cy="478.7" r="2.55" fill="#000"/>
<circle cx="254.7" cy="480.6" r="2.55" fill="#000"/>
<circle cx="238.6" cy="486.4" r="2.55" fill="#000"/>
<circle cx="234.4" cy="493" r="2.55" fill="#000"/>
<circle cx="247.7" cy="493.4" r="2.55" fill="#000"/>
<circle cx="257.7" cy="494.6" r="2.55" fill="#000"/>
<circle cx="287.6" cy="477.8" r="2.55" fill="#000"/>
<circle cx="296.7" cy="479.4" r="2.55" fill="#000"/>
<circle cx="302.6" cy="471.7" r="2.55" fill="#000"/>
<circle cx="297.4" cy="484.8" r="2.55" fill="#000"/>
<circle cx="304" cy="489.5" r="2.55" fill="#000"/>
<circle cx="288.6" cy="493.4" r="2.55" fill="#000"/>
<circle cx="306.8" cy="494.6" r="2.55" fill="#000"/>
<circle cx="361" cy="464.2" r="2.55" fill="#000"/>
<circle cx="361" cy="492.3" r="2.55" fill="#000"/>
<circle cx="430" cy="468.7" r="2.55" fill="#000"/>
<circle cx="477.9" cy="464.2" r="2.55" fill="#000"/>
<circle cx="442.8" cy="484.6" r="2.55" fill="#000"/>
<circle cx="428.3" cy="489.9" r="2.55" fill="#000"/>
<circle cx="434.6" cy="491.6" r="2.55" fill="#000"/>
<circle cx="440" cy="490.6" r="2.55" fill="#000"/>
<circle cx="469.6" cy="488.3" r="2.55" fill="#000"/>
<circle cx="475.5" cy="493" r="2.55" fill="#000"/>
<circle cx="366.1" cy="494.6" r="2.55" fill="#000"/>
<circle cx="386.7" cy="493.4" r="2.55" fill="#000"/>
<circle cx="535.9" cy="319.8" r="2.55" fill="#000"/>
<circle cx="558.6" cy="474.8" r="2.55" fill="#000"/>
<circle cx="610.5" cy="486.4" r="2.55" fill="#000"/>
<circle cx="650.6" cy="489" r="2.55" fill="#000"/>
<circle cx="624.2" cy="493.8" r="2.55" fill="#000"/>
<circle cx="542.3" cy="494.6" r="2.55" fill="#000"/>
<rect x="54.4" y="291" width="628.4" height="217" fill="none" stroke="#525252" stroke-width="1.7"/>
<line x1="46.1" y1="500.1" x2="54.4" y2="500.1" stroke="#525252" stroke-width="1.7"/>
<text class="s w2" x="0" y="0" font-size="16.1" text-anchor="middle" transform="translate(41.4 500.7) rotate(-90)">0</text>
<line x1="46.1" y1="458.7" x2="54.4" y2="458.7" stroke="#525252" stroke-width="1.7"/>
<text class="s w2" x="0" y="0" font-size="16.1" text-anchor="middle" transform="translate(41.4 459.3) rotate(-90)">2</text>
<line x1="46.1" y1="417.3" x2="54.4" y2="417.3" stroke="#525252" stroke-width="1.7"/>
<text class="s w2" x="0" y="0" font-size="16.1" text-anchor="middle" transform="translate(41.4 417.9) rotate(-90)">4</text>
<line x1="46.1" y1="376" x2="54.4" y2="376" stroke="#525252" stroke-width="1.7"/>
<text class="s w2" x="0" y="0" font-size="16.1" text-anchor="middle" transform="translate(41.4 376.6) rotate(-90)">6</text>
<line x1="46.1" y1="334.6" x2="54.4" y2="334.6" stroke="#525252" stroke-width="1.7"/>
<text class="s w2" x="0" y="0" font-size="16.1" text-anchor="middle" transform="translate(41.4 335.2) rotate(-90)">8</text>
<line x1="46.1" y1="293.2" x2="54.4" y2="293.2" stroke="#525252" stroke-width="1.7"/>
<text class="s w2" x="0" y="0" font-size="16.1" text-anchor="middle" transform="translate(41.4 293.8) rotate(-90)">10</text>
<line x1="114.9" y1="508" x2="114.9" y2="516.3" stroke="#525252" stroke-width="1.7"/>
<text class="s w3" x="0" y="0" font-size="13" font-weight="bold" text-anchor="middle" transform="translate(114.9 532) scale(0.84 1)">1</text>
<line x1="169.8" y1="508" x2="169.8" y2="516.3" stroke="#525252" stroke-width="1.7"/>
<text class="s w3" x="0" y="0" font-size="13" font-weight="bold" text-anchor="middle" transform="translate(169.8 532) scale(0.84 1)">2</text>
<line x1="205.3" y1="508" x2="205.3" y2="516.3" stroke="#525252" stroke-width="1.7"/>
<text class="s w3" x="0" y="0" font-size="13" font-weight="bold" text-anchor="middle" transform="translate(205.3 532) scale(0.84 1)">3</text>
<line x1="239.3" y1="508" x2="239.3" y2="516.3" stroke="#525252" stroke-width="1.7"/>
<text class="s w3" x="0" y="0" font-size="13" font-weight="bold" text-anchor="middle" transform="translate(239.3 532) scale(0.84 1)">4</text>
<line x1="272" y1="508" x2="272" y2="516.3" stroke="#525252" stroke-width="1.7"/>
<text class="s w3" x="0" y="0" font-size="13" font-weight="bold" text-anchor="middle" transform="translate(272 532) scale(0.84 1)">5</text>
<line x1="303.7" y1="508" x2="303.7" y2="516.3" stroke="#525252" stroke-width="1.7"/>
<text class="s w3" x="0" y="0" font-size="13" font-weight="bold" text-anchor="middle" transform="translate(303.7 532) scale(0.84 1)">6</text>
<line x1="339.7" y1="508" x2="339.7" y2="516.3" stroke="#525252" stroke-width="1.7"/>
<text class="s w3" x="0" y="0" font-size="13" font-weight="bold" text-anchor="middle" transform="translate(339.7 532) scale(0.84 1)">7</text>
<line x1="374.2" y1="508" x2="374.2" y2="516.3" stroke="#525252" stroke-width="1.7"/>
<text class="s w3" x="0" y="0" font-size="13" font-weight="bold" text-anchor="middle" transform="translate(374.2 532) scale(0.84 1)">8</text>
<line x1="409.1" y1="508" x2="409.1" y2="516.3" stroke="#525252" stroke-width="1.7"/>
<text class="s w3" x="0" y="0" font-size="13" font-weight="bold" text-anchor="middle" transform="translate(409.1 532) scale(0.84 1)">9</text>
<line x1="437.2" y1="508" x2="437.2" y2="516.3" stroke="#525252" stroke-width="1.7"/>
<text class="s w3" x="0" y="0" font-size="13" font-weight="bold" text-anchor="middle" transform="translate(437.2 532) scale(0.84 1)">10</text>
<line x1="456.9" y1="508" x2="456.9" y2="516.3" stroke="#525252" stroke-width="1.7"/>
<text class="s w3" x="0" y="0" font-size="13" font-weight="bold" text-anchor="middle" transform="translate(456.9 532) scale(0.84 1)">11</text>
<line x1="476.1" y1="508" x2="476.1" y2="516.3" stroke="#525252" stroke-width="1.7"/>
<text class="s w3" x="0" y="0" font-size="13" font-weight="bold" text-anchor="middle" transform="translate(476.1 532) scale(0.84 1)">12</text>
<line x1="509.8" y1="508" x2="509.8" y2="516.3" stroke="#525252" stroke-width="1.7"/>
<text class="s w3" x="0" y="0" font-size="13" font-weight="bold" text-anchor="middle" transform="translate(509.8 532) scale(0.84 1)">13</text>
<line x1="554" y1="508" x2="554" y2="516.3" stroke="#525252" stroke-width="1.7"/>
<text class="s w3" x="0" y="0" font-size="13" font-weight="bold" text-anchor="middle" transform="translate(554 532) scale(0.84 1)">14</text>
<line x1="591" y1="508" x2="591" y2="516.3" stroke="#525252" stroke-width="1.7"/>
<text class="s w3" x="0" y="0" font-size="13" font-weight="bold" text-anchor="middle" transform="translate(591 532) scale(0.84 1)">15</text>
<line x1="619.6" y1="508" x2="619.6" y2="516.3" stroke="#525252" stroke-width="1.7"/>
<text class="s w3" x="0" y="0" font-size="13" font-weight="bold" text-anchor="middle" transform="translate(619.6 532) scale(0.84 1)">16</text>
<line x1="638.5" y1="508" x2="638.5" y2="516.3" stroke="#525252" stroke-width="1.7"/>
<text class="s w3" x="0" y="0" font-size="13" font-weight="bold" text-anchor="middle" transform="translate(638.5 532) scale(0.84 1)">17</text>
<line x1="653.9" y1="508" x2="653.9" y2="516.3" stroke="#525252" stroke-width="1.7"/>
<text class="s w" x="368.6" y="553" font-size="15.4" text-anchor="middle">Chromosome</text>
<text class="s w" x="0" y="0" font-size="16.1" text-anchor="middle" transform="translate(12.8 397.7) rotate(-90)">Variance Explained (%)</text>
<text class="s" x="19" y="284.9" font-size="17.4" font-weight="bold">b</text>
<text class="t" x="363.8" y="329.5" font-size="18.4">LOC102167830</text>
<polygon points="494.4,314.9 511.3,314.9 511.3,311 519.3,319.3 511.3,327.6 511.3,323.6 494.4,323.6" fill="#5b9bd5" stroke="#41719c" stroke-width="1.8"/>
<text class="t" x="245.2" y="383.7" font-size="18.4" font-style="italic">SCN8A</text>
<polygon points="256.5,396.9 267.8,396.9 267.8,412.5 273.3,412.5 262.6,422.8 251.9,412.5 256.5,412.5" fill="#5b9bd5" stroke="#41719c" stroke-width="1.8"/>
<text class="t" x="396.3" y="384.4" font-size="18.4" font-style="italic">PTGS2</text>
<text class="t" x="396.3" y="406" font-size="18.4" font-style="italic">PLA2G4A</text>
<polygon points="416.8,423.6 427.4,423.6 427.4,438.3 432.8,438.3 422.2,448.3 411.7,438.3 416.8,438.3" fill="#5b9bd5" stroke="#41719c" stroke-width="1.8"/>
<text class="t" x="499.5" y="430.4" font-size="18.4" font-style="italic">IQCG</text>
<polygon points="509.6,445 521,445 521,459.4 525.5,459.4 514.8,469.6 504.4,459.4 509.6,459.4" fill="#5b9bd5" stroke="#41719c" stroke-width="1.8"/>
</g>
<g id="pc">
<rect x="76.7" y="775.1" width="75.4" height="5.7" rx="2.5" fill="#ff0a8c"/>
<circle cx="141.1" cy="774.5" r="2.55" fill="#ff0a8c"/>
<circle cx="110.2" cy="777" r="2.55" fill="#ff0a8c"/>
<circle cx="103.4" cy="777.2" r="2.55" fill="#ff0a8c"/>
<circle cx="91.3" cy="777" r="2.55" fill="#ff0a8c"/>
<circle cx="137.3" cy="778.2" r="2.55" fill="#ff0a8c"/>
<circle cx="142.1" cy="777.2" r="2.55" fill="#ff0a8c"/>
<circle cx="148.9" cy="776.6" r="2.55" fill="#ff0a8c"/>
<circle cx="90.2" cy="777.6" r="2.55" fill="#ff0a8c"/>
<circle cx="114.7" cy="778.1" r="2.55" fill="#ff0a8c"/>
<circle cx="123.5" cy="777.8" r="2.55" fill="#ff0a8c"/>
<circle cx="149.1" cy="778.2" r="2.55" fill="#ff0a8c"/>
<circle cx="108.2" cy="776.8" r="2.55" fill="#ff0a8c"/>
<circle cx="127.8" cy="777.9" r="2.55" fill="#ff0a8c"/>
<circle cx="138.5" cy="777.4" r="2.55" fill="#ff0a8c"/>
<circle cx="93.1" cy="777.6" r="2.55" fill="#ff0a8c"/>
<circle cx="98" cy="777.6" r="2.55" fill="#ff0a8c"/>
<circle cx="149.3" cy="777.8" r="2.55" fill="#ff0a8c"/>
<circle cx="87.8" cy="777.3" r="2.55" fill="#ff0a8c"/>
<circle cx="86.7" cy="778.1" r="2.55" fill="#ff0a8c"/>
<circle cx="116" cy="776.3" r="2.55" fill="#ff0a8c"/>
<circle cx="136" cy="778.3" r="2.55" fill="#ff0a8c"/>
<circle cx="133.4" cy="777.4" r="2.55" fill="#ff0a8c"/>
<circle cx="104.1" cy="778" r="2.55" fill="#ff0a8c"/>
<circle cx="86.2" cy="776.4" r="2.55" fill="#ff0a8c"/>
<circle cx="103.8" cy="777.8" r="2.55" fill="#ff0a8c"/>
<circle cx="83.1" cy="776.4" r="2.55" fill="#ff0a8c"/>
<circle cx="146.7" cy="777.5" r="2.55" fill="#ff0a8c"/>
<circle cx="96.8" cy="777.1" r="2.55" fill="#ff0a8c"/>
<circle cx="139.3" cy="777.1" r="2.55" fill="#ff0a8c"/>
<circle cx="136.6" cy="777.5" r="2.55" fill="#ff0a8c"/>
<circle cx="146.7" cy="777.1" r="2.55" fill="#ff0a8c"/>
<circle cx="96.3" cy="777.4" r="2.55" fill="#ff0a8c"/>
<circle cx="94.8" cy="777.2" r="2.55" fill="#ff0a8c"/>
<circle cx="113.3" cy="776.9" r="2.55" fill="#ff0a8c"/>
<circle cx="91.4" cy="778.1" r="2.55" fill="#ff0a8c"/>
<circle cx="147.5" cy="777.6" r="2.55" fill="#ff0a8c"/>
<circle cx="87.3" cy="777.8" r="2.55" fill="#ff0a8c"/>
<circle cx="107.6" cy="778.1" r="2.55" fill="#ff0a8c"/>
<circle cx="137.3" cy="778" r="2.55" fill="#ff0a8c"/>
<circle cx="92.7" cy="778" r="2.55" fill="#ff0a8c"/>
<circle cx="81.7" cy="777.9" r="2.55" fill="#ff0a8c"/>
<circle cx="90.2" cy="778.2" r="2.55" fill="#ff0a8c"/>
<circle cx="98.2" cy="777.1" r="2.55" fill="#ff0a8c"/>
<circle cx="110.4" cy="776" r="2.55" fill="#ff0a8c"/>
<circle cx="90.4" cy="777.4" r="2.55" fill="#ff0a8c"/>
<circle cx="105.7" cy="775.2" r="2.55" fill="#ff0a8c"/>
<circle cx="146.1" cy="778" r="2.55" fill="#ff0a8c"/>
<rect x="152.1" y="775.1" width="37.4" height="5.7" rx="2.5" fill="#000"/>
<circle cx="169.3" cy="777.4" r="2.55" fill="#000"/>
<circle cx="163.1" cy="776.4" r="2.55" fill="#000"/>
<circle cx="166.5" cy="777.5" r="2.55" fill="#000"/>
<circle cx="161.5" cy="777.1" r="2.55" fill="#000"/>
<circle cx="171.2" cy="778" r="2.55" fill="#000"/>
<circle cx="179.6" cy="777.5" r="2.55" fill="#000"/>
<circle cx="173" cy="777.8" r="2.55" fill="#000"/>
<circle cx="157.4" cy="777.2" r="2.55" fill="#000"/>
<circle cx="165" cy="778.2" r="2.55" fill="#000"/>
<circle cx="172.8" cy="777.7" r="2.55" fill="#000"/>
<circle cx="164.2" cy="777.9" r="2.55" fill="#000"/>
<circle cx="162" cy="777.4" r="2.55" fill="#000"/>
<circle cx="163.8" cy="777.1" r="2.55" fill="#000"/>
<circle cx="179.7" cy="775.9" r="2.55" fill="#000"/>
<circle cx="158.9" cy="778.3" r="2.55" fill="#000"/>
<circle cx="176.6" cy="777.8" r="2.55" fill="#000"/>
<circle cx="168" cy="777.4" r="2.55" fill="#000"/>
<circle cx="162.7" cy="776.7" r="2.55" fill="#000"/>
<circle cx="175" cy="778.2" r="2.55" fill="#000"/>
<circle cx="184.1" cy="776.2" r="2.55" fill="#000"/>
<circle cx="156" cy="778.1" r="2.55" fill="#000"/>
<circle cx="161" cy="777.8" r="2.55" fill="#000"/>
<circle cx="155.9" cy="777.5" r="2.55" fill="#000"/>
<rect x="189.5" y="775.1" width="34.4" height="5.7" rx="2.5" fill="#ff0a8c"/>
<circle cx="197.3" cy="776.4" r="2.55" fill="#ff0a8c"/>
<circle cx="213" cy="777.7" r="2.55" fill="#ff0a8c"/>
<circle cx="212.1" cy="778.3" r="2.55" fill="#ff0a8c"/>
<circle cx="216.5" cy="776.8" r="2.55" fill="#ff0a8c"/>
<circle cx="193.3" cy="776.3" r="2.55" fill="#ff0a8c"/>
<circle cx="193.4" cy="778.2" r="2.55" fill="#ff0a8c"/>
<circle cx="215.2" cy="777.1" r="2.55" fill="#ff0a8c"/>
<circle cx="214" cy="777.4" r="2.55" fill="#ff0a8c"/>
<circle cx="203.6" cy="776" r="2.55" fill="#ff0a8c"/>
<circle cx="200.3" cy="777.1" r="2.55" fill="#ff0a8c"/>
<circle cx="204.5" cy="776.2" r="2.55" fill="#ff0a8c"/>
<circle cx="213.7" cy="776.3" r="2.55" fill="#ff0a8c"/>
<circle cx="205.3" cy="777.4" r="2.55" fill="#ff0a8c"/>
<circle cx="204.6" cy="777.1" r="2.55" fill="#ff0a8c"/>
<circle cx="195.8" cy="777.2" r="2.55" fill="#ff0a8c"/>
<circle cx="212.6" cy="776.9" r="2.55" fill="#ff0a8c"/>
<circle cx="208.1" cy="774.1" r="2.55" fill="#ff0a8c"/>
<circle cx="208" cy="778.2" r="2.55" fill="#ff0a8c"/>
<circle cx="202.5" cy="778" r="2.55" fill="#ff0a8c"/>
<circle cx="201.1" cy="777.4" r="2.55" fill="#ff0a8c"/>
<circle cx="211.7" cy="778" r="2.55" fill="#ff0a8c"/>
<rect x="223.9" y="775.1" width="35" height="5.7" rx="2.5" fill="#000"/>
<circle cx="241.9" cy="777.1" r="2.55" fill="#000"/>
<circle cx="237" cy="777.2" r="2.55" fill="#000"/>
<circle cx="230.7" cy="777.9" r="2.55" fill="#000"/>
<circle cx="250.8" cy="777.3" r="2.55" fill="#000"/>
<circle cx="231.5" cy="777.5" r="2.55" fill="#000"/>
<circle cx="240.2" cy="776" r="2.55" fill="#000"/>
<circle cx="229.9" cy="777.8" r="2.55" fill="#000"/>
<circle cx="232.6" cy="777.9" r="2.55" fill="#000"/>
<circle cx="232.3" cy="777.7" r="2.55" fill="#000"/>
<circle cx="229.8" cy="777.7" r="2.55" fill="#000"/>
<circle cx="237.3" cy="778.2" r="2.55" fill="#000"/>
<circle cx="226.8" cy="773.8" r="2.55" fill="#000"/>
<circle cx="229" cy="777" r="2.55" fill="#000"/>
<circle cx="243.3" cy="777.7" r="2.55" fill="#000"/>
<circle cx="239.4" cy="777.6" r="2.55" fill="#000"/>
<circle cx="226.7" cy="776.3" r="2.55" fill="#000"/>
<circle cx="245.2" cy="776.3" r="2.55" fill="#000"/>
<circle cx="234" cy="778.1" r="2.55" fill="#000"/>
<circle cx="227.3" cy="776" r="2.55" fill="#000"/>
<circle cx="235.3" cy="777.5" r="2.55" fill="#000"/>
<circle cx="251.7" cy="777" r="2.55" fill="#000"/>
<rect x="258.9" y="775.1" width="25.2" height="5.7" rx="2.5" fill="#ff0a8c"/>
<circle cx="277.2" cy="776.1" r="2.55" fill="#ff0a8c"/>
<circle cx="268" cy="777.2" r="2.55" fill="#ff0a8c"/>
<circle cx="267.9" cy="777.6" r="2.55" fill="#ff0a8c"/>
<circle cx="268.9" cy="776.9" r="2.55" fill="#ff0a8c"/>
<circle cx="262.3" cy="777.5" r="2.55" fill="#ff0a8c"/>
<circle cx="277.9" cy="777.1" r="2.55" fill="#ff0a8c"/>
<circle cx="280.4" cy="777.7" r="2.55" fill="#ff0a8c"/>
<circle cx="264.6" cy="777.6" r="2.55" fill="#ff0a8c"/>
<circle cx="263.1" cy="778.1" r="2.55" fill="#ff0a8c"/>
<circle cx="270.4" cy="775.5" r="2.55" fill="#ff0a8c"/>
<circle cx="262.3" cy="778.1" r="2.55" fill="#ff0a8c"/>
<circle cx="276" cy="777.2" r="2.55" fill="#ff0a8c"/>
<circle cx="278.6" cy="776.6" r="2.55" fill="#ff0a8c"/>
<circle cx="267.1" cy="777.6" r="2.55" fill="#ff0a8c"/>
<circle cx="269.9" cy="777.7" r="2.55" fill="#ff0a8c"/>
<rect x="284.1" y="775.1" width="37.4" height="5.7" rx="2.5" fill="#000"/>
<circle cx="308.2" cy="775.9" r="2.55" fill="#000"/>
<circle cx="292" cy="777.7" r="2.55" fill="#000"/>
<circle cx="304.8" cy="778" r="2.55" fill="#000"/>
<circle cx="289.4" cy="777.7" r="2.55" fill="#000"/>
<circle cx="318" cy="775.9" r="2.55" fill="#000"/>
<circle cx="318.1" cy="774.1" r="2.55" fill="#000"/>
<circle cx="312.9" cy="777.4" r="2.55" fill="#000"/>
<circle cx="306.3" cy="777.6" r="2.55" fill="#000"/>
<circle cx="317.4" cy="777.5" r="2.55" fill="#000"/>
<circle cx="296.3" cy="777.2" r="2.55" fill="#000"/>
<circle cx="287.5" cy="777.4" r="2.55" fill="#000"/>
<circle cx="301.1" cy="777.4" r="2.55" fill="#000"/>
<circle cx="298.7" cy="777.8" r="2.55" fill="#000"/>
<circle cx="303.8" cy="777.8" r="2.55" fill="#000"/>
<circle cx="290.3" cy="777.2" r="2.55" fill="#000"/>
<circle cx="304.4" cy="777.2" r="2.55" fill="#000"/>
<circle cx="294.8" cy="777.6" r="2.55" fill="#000"/>
<circle cx="294.8" cy="777.6" r="2.55" fill="#000"/>
<circle cx="294" cy="778.2" r="2.55" fill="#000"/>
<circle cx="303.2" cy="778.2" r="2.55" fill="#000"/>
<circle cx="299.8" cy="777.7" r="2.55" fill="#000"/>
<circle cx="314.5" cy="777.4" r="2.55" fill="#000"/>
<circle cx="311.1" cy="777" r="2.55" fill="#000"/>
<rect x="321.5" y="775.1" width="32" height="5.7" rx="2.5" fill="#ff0a8c"/>
<circle cx="343.5" cy="777.2" r="2.55" fill="#ff0a8c"/>
<circle cx="334.6" cy="777.1" r="2.55" fill="#ff0a8c"/>
<circle cx="339.2" cy="777.1" r="2.55" fill="#ff0a8c"/>
<circle cx="344.9" cy="778" r="2.55" fill="#ff0a8c"/>
<circle cx="334.1" cy="777.5" r="2.55" fill="#ff0a8c"/>
<circle cx="329.8" cy="777.4" r="2.55" fill="#ff0a8c"/>
<circle cx="335.5" cy="776.3" r="2.55" fill="#ff0a8c"/>
<circle cx="347.5" cy="777.1" r="2.55" fill="#ff0a8c"/>
<circle cx="347.5" cy="777.3" r="2.55" fill="#ff0a8c"/>
<circle cx="333.2" cy="776.2" r="2.55" fill="#ff0a8c"/>
<circle cx="346.3" cy="777.8" r="2.55" fill="#ff0a8c"/>
<circle cx="343.9" cy="776.2" r="2.55" fill="#ff0a8c"/>
<circle cx="325.2" cy="778.2" r="2.55" fill="#ff0a8c"/>
<circle cx="338.8" cy="777.1" r="2.55" fill="#ff0a8c"/>
<circle cx="348.9" cy="778" r="2.55" fill="#ff0a8c"/>
<circle cx="329.2" cy="777.2" r="2.55" fill="#ff0a8c"/>
<circle cx="339.7" cy="778.3" r="2.55" fill="#ff0a8c"/>
<circle cx="327" cy="777" r="2.55" fill="#ff0a8c"/>
<circle cx="339" cy="777.4" r="2.55" fill="#ff0a8c"/>
<circle cx="334.3" cy="777.2" r="2.55" fill="#ff0a8c"/>
<rect x="353.5" y="775.1" width="34.4" height="5.7" rx="2.5" fill="#000"/>
<circle cx="371.8" cy="777.3" r="2.55" fill="#000"/>
<circle cx="383.8" cy="777.9" r="2.55" fill="#000"/>
<circle cx="360.5" cy="777.2" r="2.55" fill="#000"/>
<circle cx="379.5" cy="778.1" r="2.55" fill="#000"/>
<circle cx="380" cy="777.8" r="2.55" fill="#000"/>
<circle cx="370" cy="777.2" r="2.55" fill="#000"/>
<circle cx="367.6" cy="776.3" r="2.55" fill="#000"/>
<circle cx="358.3" cy="778" r="2.55" fill="#000"/>
<circle cx="382.2" cy="778.2" r="2.55" fill="#000"/>
<circle cx="361" cy="777.7" r="2.55" fill="#000"/>
<circle cx="373" cy="777.8" r="2.55" fill="#000"/>
<circle cx="356.2" cy="777.9" r="2.55" fill="#000"/>
<circle cx="356.7" cy="777" r="2.55" fill="#000"/>
<circle cx="357.4" cy="777.4" r="2.55" fill="#000"/>
<circle cx="364" cy="777.7" r="2.55" fill="#000"/>
<circle cx="363.7" cy="777.6" r="2.55" fill="#000"/>
<circle cx="384.1" cy="775.6" r="2.55" fill="#000"/>
<circle cx="372.5" cy="775.9" r="2.55" fill="#000"/>
<circle cx="378.7" cy="777.5" r="2.55" fill="#000"/>
<circle cx="366.7" cy="777.3" r="2.55" fill="#000"/>
<circle cx="381.6" cy="776.2" r="2.55" fill="#000"/>
<rect x="387.9" y="775.1" width="36.2" height="5.7" rx="2.5" fill="#ff0a8c"/>
<circle cx="399.9" cy="776.1" r="2.55" fill="#ff0a8c"/>
<circle cx="406.3" cy="777.8" r="2.55" fill="#ff0a8c"/>
<circle cx="407.6" cy="778.2" r="2.55" fill="#ff0a8c"/>
<circle cx="400.9" cy="777" r="2.55" fill="#ff0a8c"/>
<circle cx="405.4" cy="778" r="2.55" fill="#ff0a8c"/>
<circle cx="397.8" cy="778.1" r="2.55" fill="#ff0a8c"/>
<circle cx="390.7" cy="776.6" r="2.55" fill="#ff0a8c"/>
<circle cx="404.3" cy="777.9" r="2.55" fill="#ff0a8c"/>
<circle cx="395.7" cy="777.9" r="2.55" fill="#ff0a8c"/>
<circle cx="400" cy="776.4" r="2.55" fill="#ff0a8c"/>
<circle cx="419.6" cy="777.1" r="2.55" fill="#ff0a8c"/>
<circle cx="408.6" cy="778.1" r="2.55" fill="#ff0a8c"/>
<circle cx="408.5" cy="774.8" r="2.55" fill="#ff0a8c"/>
<circle cx="414.5" cy="777.2" r="2.55" fill="#ff0a8c"/>
<circle cx="392.6" cy="777.1" r="2.55" fill="#ff0a8c"/>
<circle cx="399" cy="778.3" r="2.55" fill="#ff0a8c"/>
<circle cx="395.6" cy="777.4" r="2.55" fill="#ff0a8c"/>
<circle cx="397.2" cy="778" r="2.55" fill="#ff0a8c"/>
<circle cx="409.2" cy="776.3" r="2.55" fill="#ff0a8c"/>
<circle cx="396.6" cy="775.8" r="2.55" fill="#ff0a8c"/>
<circle cx="409.1" cy="777.3" r="2.55" fill="#ff0a8c"/>
<circle cx="417.7" cy="778.1" r="2.55" fill="#ff0a8c"/>
<rect x="424.1" y="775.1" width="19.8" height="5.7" rx="2.5" fill="#000"/>
<circle cx="429.4" cy="777.2" r="2.55" fill="#000"/>
<circle cx="436.1" cy="776.9" r="2.55" fill="#000"/>
<circle cx="431.5" cy="776.3" r="2.55" fill="#000"/>
<circle cx="432.6" cy="777.9" r="2.55" fill="#000"/>
<circle cx="427.5" cy="778.2" r="2.55" fill="#000"/>
<circle cx="435.9" cy="777.7" r="2.55" fill="#000"/>
<circle cx="435.4" cy="777.7" r="2.55" fill="#000"/>
<circle cx="426.8" cy="776.4" r="2.55" fill="#000"/>
<circle cx="441.2" cy="777.5" r="2.55" fill="#000"/>
<circle cx="437.3" cy="778.2" r="2.55" fill="#000"/>
<circle cx="428.9" cy="777.3" r="2.55" fill="#000"/>
<circle cx="428" cy="776.6" r="2.55" fill="#000"/>
<rect x="443.9" y="775.1" width="21.1" height="5.7" rx="2.5" fill="#ff0a8c"/>
<circle cx="455.1" cy="777.6" r="2.55" fill="#ff0a8c"/>
<circle cx="457" cy="777.9" r="2.55" fill="#ff0a8c"/>
<circle cx="458.3" cy="777.4" r="2.55" fill="#ff0a8c"/>
<circle cx="458.7" cy="776.8" r="2.55" fill="#ff0a8c"/>
<circle cx="458.8" cy="774.6" r="2.55" fill="#ff0a8c"/>
<circle cx="450.9" cy="777.1" r="2.55" fill="#ff0a8c"/>
<circle cx="448.6" cy="777.7" r="2.55" fill="#ff0a8c"/>
<circle cx="456.9" cy="776.7" r="2.55" fill="#ff0a8c"/>
<circle cx="462.3" cy="777.3" r="2.55" fill="#ff0a8c"/>
<circle cx="447.9" cy="778.1" r="2.55" fill="#ff0a8c"/>
<circle cx="447.4" cy="777.6" r="2.55" fill="#ff0a8c"/>
<circle cx="449.4" cy="776.7" r="2.55" fill="#ff0a8c"/>
<circle cx="448.8" cy="777.4" r="2.55" fill="#ff0a8c"/>
<rect x="465" y="775.1" width="16.3" height="5.7" rx="2.5" fill="#000"/>
<circle cx="477.9" cy="778.3" r="2.55" fill="#000"/>
<circle cx="476.3" cy="777" r="2.55" fill="#000"/>
<circle cx="473.1" cy="777.9" r="2.55" fill="#000"/>
<circle cx="476.5" cy="777.9" r="2.55" fill="#000"/>
<circle cx="477.7" cy="777.4" r="2.55" fill="#000"/>
<circle cx="468.3" cy="777.8" r="2.55" fill="#000"/>
<circle cx="477.2" cy="777.6" r="2.55" fill="#000"/>
<circle cx="472.1" cy="775.8" r="2.55" fill="#000"/>
<circle cx="474.6" cy="778" r="2.55" fill="#000"/>
<circle cx="470.5" cy="778" r="2.55" fill="#000"/>
<rect x="481.3" y="775.1" width="50.4" height="5.7" rx="2.5" fill="#ff0a8c"/>
<circle cx="493.1" cy="776.3" r="2.55" fill="#ff0a8c"/>
<circle cx="497.4" cy="775.2" r="2.55" fill="#ff0a8c"/>
<circle cx="509.6" cy="777.2" r="2.55" fill="#ff0a8c"/>
<circle cx="523.2" cy="777.3" r="2.55" fill="#ff0a8c"/>
<circle cx="521.1" cy="777.9" r="2.55" fill="#ff0a8c"/>
<circle cx="505.8" cy="777" r="2.55" fill="#ff0a8c"/>
<circle cx="514.8" cy="777.7" r="2.55" fill="#ff0a8c"/>
<circle cx="510.1" cy="776.9" r="2.55" fill="#ff0a8c"/>
<circle cx="523.9" cy="777.3" r="2.55" fill="#ff0a8c"/>
<circle cx="523" cy="777.2" r="2.55" fill="#ff0a8c"/>
<circle cx="528.9" cy="778.3" r="2.55" fill="#ff0a8c"/>
<circle cx="488.9" cy="775.7" r="2.55" fill="#ff0a8c"/>
<circle cx="525.1" cy="777.4" r="2.55" fill="#ff0a8c"/>
<circle cx="488.3" cy="777.4" r="2.55" fill="#ff0a8c"/>
<circle cx="487.9" cy="777.1" r="2.55" fill="#ff0a8c"/>
<circle cx="516.3" cy="775.8" r="2.55" fill="#ff0a8c"/>
<circle cx="485.3" cy="777.3" r="2.55" fill="#ff0a8c"/>
<circle cx="515.1" cy="777.7" r="2.55" fill="#ff0a8c"/>
<circle cx="494.3" cy="778.2" r="2.55" fill="#ff0a8c"/>
<circle cx="484.8" cy="774.9" r="2.55" fill="#ff0a8c"/>
<circle cx="523.6" cy="777.7" r="2.55" fill="#ff0a8c"/>
<circle cx="490" cy="778.1" r="2.55" fill="#ff0a8c"/>
<circle cx="514.9" cy="777.3" r="2.55" fill="#ff0a8c"/>
<circle cx="506.5" cy="777.8" r="2.55" fill="#ff0a8c"/>
<circle cx="506.3" cy="776.7" r="2.55" fill="#ff0a8c"/>
<circle cx="493.6" cy="773.5" r="2.55" fill="#ff0a8c"/>
<circle cx="517" cy="778.1" r="2.55" fill="#ff0a8c"/>
<circle cx="495.8" cy="778.2" r="2.55" fill="#ff0a8c"/>
<circle cx="506.9" cy="777.6" r="2.55" fill="#ff0a8c"/>
<circle cx="500.3" cy="777.4" r="2.55" fill="#ff0a8c"/>
<circle cx="513.4" cy="777.6" r="2.55" fill="#ff0a8c"/>
<rect x="531.7" y="775.1" width="37.8" height="5.7" rx="2.5" fill="#000"/>
<circle cx="556.8" cy="773.5" r="2.55" fill="#000"/>
<circle cx="557.7" cy="777.9" r="2.55" fill="#000"/>
<circle cx="548" cy="774.7" r="2.55" fill="#000"/>
<circle cx="546.9" cy="778.1" r="2.55" fill="#000"/>
<circle cx="566.9" cy="777.5" r="2.55" fill="#000"/>
<circle cx="564.5" cy="777.5" r="2.55" fill="#000"/>
<circle cx="546.6" cy="778" r="2.55" fill="#000"/>
<circle cx="538" cy="776.1" r="2.55" fill="#000"/>
<circle cx="564" cy="777.4" r="2.55" fill="#000"/>
<circle cx="544.9" cy="777.6" r="2.55" fill="#000"/>
<circle cx="544.6" cy="775.7" r="2.55" fill="#000"/>
<circle cx="558.7" cy="776.5" r="2.55" fill="#000"/>
<circle cx="553.6" cy="775.1" r="2.55" fill="#000"/>
<circle cx="554.8" cy="776.7" r="2.55" fill="#000"/>
<circle cx="557.5" cy="777.6" r="2.55" fill="#000"/>
<circle cx="554.3" cy="777.9" r="2.55" fill="#000"/>
<circle cx="554.8" cy="778" r="2.55" fill="#000"/>
<circle cx="554.3" cy="777.1" r="2.55" fill="#000"/>
<circle cx="549.7" cy="776.5" r="2.55" fill="#000"/>
<circle cx="549.8" cy="778.1" r="2.55" fill="#000"/>
<circle cx="564.6" cy="777.6" r="2.55" fill="#000"/>
<circle cx="551.5" cy="776.9" r="2.55" fill="#000"/>
<circle cx="539.9" cy="776.6" r="2.55" fill="#000"/>
<rect x="569.5" y="775.1" width="36.2" height="5.7" rx="2.5" fill="#ff0a8c"/>
<circle cx="592" cy="775.9" r="2.55" fill="#ff0a8c"/>
<circle cx="599" cy="777.8" r="2.55" fill="#ff0a8c"/>
<circle cx="597.9" cy="777.1" r="2.55" fill="#ff0a8c"/>
<circle cx="576.8" cy="778.2" r="2.55" fill="#ff0a8c"/>
<circle cx="583.1" cy="776.5" r="2.55" fill="#ff0a8c"/>
<circle cx="586.1" cy="777.8" r="2.55" fill="#ff0a8c"/>
<circle cx="603.1" cy="777.7" r="2.55" fill="#ff0a8c"/>
<circle cx="586.9" cy="776.1" r="2.55" fill="#ff0a8c"/>
<circle cx="576.7" cy="777.8" r="2.55" fill="#ff0a8c"/>
<circle cx="588.2" cy="777.8" r="2.55" fill="#ff0a8c"/>
<circle cx="582.6" cy="778.3" r="2.55" fill="#ff0a8c"/>
<circle cx="578.3" cy="778.2" r="2.55" fill="#ff0a8c"/>
<circle cx="577.6" cy="777.9" r="2.55" fill="#ff0a8c"/>
<circle cx="582.1" cy="777.2" r="2.55" fill="#ff0a8c"/>
<circle cx="574.9" cy="777.2" r="2.55" fill="#ff0a8c"/>
<circle cx="578.3" cy="777.3" r="2.55" fill="#ff0a8c"/>
<circle cx="591.3" cy="778.2" r="2.55" fill="#ff0a8c"/>
<circle cx="585.8" cy="777.4" r="2.55" fill="#ff0a8c"/>
<circle cx="581.2" cy="777.5" r="2.55" fill="#ff0a8c"/>
<circle cx="597.3" cy="777.8" r="2.55" fill="#ff0a8c"/>
<circle cx="590" cy="777" r="2.55" fill="#ff0a8c"/>
<circle cx="602.3" cy="777.8" r="2.55" fill="#ff0a8c"/>
<rect x="605.7" y="775.1" width="21.2" height="5.7" rx="2.5" fill="#000"/>
<circle cx="619" cy="778.2" r="2.55" fill="#000"/>
<circle cx="620.4" cy="777.6" r="2.55" fill="#000"/>
<circle cx="616.2" cy="776.1" r="2.55" fill="#000"/>
<circle cx="608.7" cy="777.7" r="2.55" fill="#000"/>
<circle cx="615.7" cy="776.6" r="2.55" fill="#000"/>
<circle cx="615.9" cy="776.6" r="2.55" fill="#000"/>
<circle cx="616.2" cy="777.2" r="2.55" fill="#000"/>
<circle cx="619" cy="776.6" r="2.55" fill="#000"/>
<circle cx="608.9" cy="777.6" r="2.55" fill="#000"/>
<circle cx="620.6" cy="777.1" r="2.55" fill="#000"/>
<circle cx="611.8" cy="777.2" r="2.55" fill="#000"/>
<circle cx="609.9" cy="777.3" r="2.55" fill="#000"/>
<circle cx="617.3" cy="777.4" r="2.55" fill="#000"/>
<rect x="626.9" y="775.1" width="17.1" height="5.7" rx="2.5" fill="#ff0a8c"/>
<circle cx="638" cy="778.2" r="2.55" fill="#ff0a8c"/>
<circle cx="637.7" cy="777.5" r="2.55" fill="#ff0a8c"/>
<circle cx="641.4" cy="775.9" r="2.55" fill="#ff0a8c"/>
<circle cx="631.2" cy="777.6" r="2.55" fill="#ff0a8c"/>
<circle cx="629.5" cy="775" r="2.55" fill="#ff0a8c"/>
<circle cx="632.6" cy="778" r="2.55" fill="#ff0a8c"/>
<circle cx="639.8" cy="777.6" r="2.55" fill="#ff0a8c"/>
<circle cx="634.5" cy="777.9" r="2.55" fill="#ff0a8c"/>
<circle cx="639.9" cy="775.9" r="2.55" fill="#ff0a8c"/>
<circle cx="632.5" cy="778.2" r="2.55" fill="#ff0a8c"/>
<rect x="644" y="775.1" width="18" height="5.7" rx="2.5" fill="#000"/>
<circle cx="653.5" cy="777.7" r="2.55" fill="#000"/>
<circle cx="652.9" cy="777.8" r="2.55" fill="#000"/>
<circle cx="656.9" cy="777.1" r="2.55" fill="#000"/>
<circle cx="653.7" cy="777.9" r="2.55" fill="#000"/>
<circle cx="653.4" cy="777.6" r="2.55" fill="#000"/>
<circle cx="650.7" cy="777.3" r="2.55" fill="#000"/>
<circle cx="650.3" cy="777.3" r="2.55" fill="#000"/>
<circle cx="654.2" cy="777.1" r="2.55" fill="#000"/>
<circle cx="652.3" cy="777.2" r="2.55" fill="#000"/>
<circle cx="652.1" cy="778.2" r="2.55" fill="#000"/>
<circle cx="657.7" cy="777.5" r="2.55" fill="#000"/>
<circle cx="84" cy="771.1" r="2.55" fill="#ff0a8c"/>
<circle cx="94.7" cy="771.9" r="2.55" fill="#ff0a8c"/>
<circle cx="93" cy="772.8" r="2.55" fill="#ff0a8c"/>
<circle cx="97.9" cy="775.3" r="2.55" fill="#ff0a8c"/>
<circle cx="84.9" cy="771.7" r="2.55" fill="#ff0a8c"/>
<circle cx="83.1" cy="771.1" r="2.55" fill="#ff0a8c"/>
<circle cx="84.8" cy="776.6" r="2.55" fill="#ff0a8c"/>
<circle cx="81.7" cy="772" r="2.55" fill="#ff0a8c"/>
<circle cx="105.6" cy="774.5" r="2.55" fill="#ff0a8c"/>
<circle cx="97.4" cy="775.5" r="2.55" fill="#ff0a8c"/>
<circle cx="104.4" cy="772.7" r="2.55" fill="#ff0a8c"/>
<circle cx="83.3" cy="776.9" r="2.55" fill="#ff0a8c"/>
<circle cx="98.5" cy="777" r="2.55" fill="#ff0a8c"/>
<circle cx="102.4" cy="775.3" r="2.55" fill="#ff0a8c"/>
<circle cx="85.5" cy="773.4" r="2.55" fill="#ff0a8c"/>
<circle cx="87.9" cy="773.5" r="2.55" fill="#ff0a8c"/>
<circle cx="83.3" cy="771.2" r="2.55" fill="#ff0a8c"/>
<circle cx="88.1" cy="771.6" r="2.55" fill="#ff0a8c"/>
<circle cx="83.3" cy="771.9" r="2.55" fill="#ff0a8c"/>
<circle cx="106.4" cy="774.6" r="2.55" fill="#ff0a8c"/>
<circle cx="79.9" cy="774.7" r="2.55" fill="#ff0a8c"/>
<circle cx="96.9" cy="775.8" r="2.55" fill="#ff0a8c"/>
<circle cx="94.3" cy="776.6" r="2.55" fill="#ff0a8c"/>
<circle cx="127.3" cy="775.8" r="2.55" fill="#ff0a8c"/>
<circle cx="126.2" cy="775.9" r="2.55" fill="#ff0a8c"/>
<circle cx="115.8" cy="775.6" r="2.55" fill="#ff0a8c"/>
<circle cx="116" cy="775.4" r="2.55" fill="#ff0a8c"/>
<circle cx="144.9" cy="775.3" r="2.55" fill="#ff0a8c"/>
<circle cx="129.4" cy="776.7" r="2.55" fill="#ff0a8c"/>
<circle cx="123.5" cy="775.7" r="2.55" fill="#ff0a8c"/>
<circle cx="128.4" cy="775.4" r="2.55" fill="#ff0a8c"/>
<circle cx="115.1" cy="776.3" r="2.55" fill="#ff0a8c"/>
<circle cx="140.5" cy="776" r="2.55" fill="#ff0a8c"/>
<circle cx="129.8" cy="777.1" r="2.55" fill="#ff0a8c"/>
<circle cx="116.6" cy="776.7" r="2.55" fill="#ff0a8c"/>
<circle cx="141.5" cy="775.5" r="2.55" fill="#ff0a8c"/>
<circle cx="119.5" cy="775.4" r="2.55" fill="#ff0a8c"/>
<circle cx="113.1" cy="776" r="2.55" fill="#ff0a8c"/>
<circle cx="143.9" cy="776.6" r="2.55" fill="#ff0a8c"/>
<circle cx="143.2" cy="775.9" r="2.55" fill="#ff0a8c"/>
<circle cx="113.7" cy="776.6" r="2.55" fill="#ff0a8c"/>
<circle cx="126.8" cy="776.8" r="2.55" fill="#ff0a8c"/>
<circle cx="136.5" cy="776.9" r="2.55" fill="#ff0a8c"/>
<circle cx="138" cy="776.7" r="2.55" fill="#ff0a8c"/>
<circle cx="114.3" cy="776.1" r="2.55" fill="#ff0a8c"/>
<circle cx="115.2" cy="776.1" r="2.55" fill="#ff0a8c"/>
<circle cx="138" cy="776" r="2.55" fill="#ff0a8c"/>
<circle cx="127.2" cy="777.2" r="2.55" fill="#ff0a8c"/>
<circle cx="128.9" cy="777.1" r="2.55" fill="#ff0a8c"/>
<circle cx="133.3" cy="777" r="2.55" fill="#ff0a8c"/>
<circle cx="175.3" cy="776" r="2.55" fill="#000"/>
<circle cx="169.2" cy="774.9" r="2.55" fill="#000"/>
<circle cx="162.9" cy="776.7" r="2.55" fill="#000"/>
<circle cx="186.2" cy="776.1" r="2.55" fill="#000"/>
<circle cx="183.3" cy="774.1" r="2.55" fill="#000"/>
<circle cx="172.4" cy="776.7" r="2.55" fill="#000"/>
<circle cx="160.8" cy="774.1" r="2.55" fill="#000"/>
<circle cx="161.5" cy="775.5" r="2.55" fill="#000"/>
<circle cx="174.1" cy="776.8" r="2.55" fill="#000"/>
<circle cx="172" cy="776.7" r="2.55" fill="#000"/>
<circle cx="174.1" cy="775.4" r="2.55" fill="#000"/>
<circle cx="169" cy="776.6" r="2.55" fill="#000"/>
<circle cx="170.1" cy="776.5" r="2.55" fill="#000"/>
<circle cx="161.8" cy="776.4" r="2.55" fill="#000"/>
<circle cx="184.1" cy="775.5" r="2.55" fill="#000"/>
<circle cx="184.7" cy="777.2" r="2.55" fill="#000"/>
<circle cx="186.3" cy="775.5" r="2.55" fill="#000"/>
<circle cx="181.7" cy="775.2" r="2.55" fill="#000"/>
<circle cx="178.7" cy="776.4" r="2.55" fill="#000"/>
<circle cx="180.5" cy="776.7" r="2.55" fill="#000"/>
<circle cx="165.9" cy="777.2" r="2.55" fill="#000"/>
<circle cx="169.8" cy="775.4" r="2.55" fill="#000"/>
<circle cx="166.8" cy="774.1" r="2.55" fill="#000"/>
<circle cx="160.5" cy="775.2" r="2.55" fill="#000"/>
<circle cx="165" cy="775.1" r="2.55" fill="#000"/>
<circle cx="249.5" cy="775.3" r="2.55" fill="#000"/>
<circle cx="227.9" cy="776.6" r="2.55" fill="#000"/>
<circle cx="244" cy="774.5" r="2.55" fill="#000"/>
<circle cx="227.2" cy="775.5" r="2.55" fill="#000"/>
<circle cx="246.8" cy="775" r="2.55" fill="#000"/>
<circle cx="236.3" cy="775" r="2.55" fill="#000"/>
<circle cx="239.9" cy="774.7" r="2.55" fill="#000"/>
<circle cx="226.3" cy="774.6" r="2.55" fill="#000"/>
<circle cx="238.4" cy="776.1" r="2.55" fill="#000"/>
<circle cx="228.6" cy="776.6" r="2.55" fill="#000"/>
<circle cx="248" cy="775.3" r="2.55" fill="#000"/>
<circle cx="230.5" cy="776.3" r="2.55" fill="#000"/>
<circle cx="230.2" cy="776.7" r="2.55" fill="#000"/>
<circle cx="232.6" cy="776.3" r="2.55" fill="#000"/>
<circle cx="255.3" cy="774.4" r="2.55" fill="#000"/>
<circle cx="249.7" cy="775.9" r="2.55" fill="#000"/>
<circle cx="240.9" cy="775.1" r="2.55" fill="#000"/>
<circle cx="253.2" cy="775.1" r="2.55" fill="#000"/>
<circle cx="245.1" cy="776.7" r="2.55" fill="#000"/>
<circle cx="244.8" cy="774.9" r="2.55" fill="#000"/>
<circle cx="249.6" cy="777" r="2.55" fill="#000"/>
<circle cx="247.5" cy="776.3" r="2.55" fill="#000"/>
<circle cx="230.9" cy="774.5" r="2.55" fill="#000"/>
<circle cx="246.2" cy="775.2" r="2.55" fill="#000"/>
<circle cx="230" cy="774.9" r="2.55" fill="#000"/>
<circle cx="316.2" cy="774.9" r="2.55" fill="#000"/>
<circle cx="310.9" cy="775.1" r="2.55" fill="#000"/>
<circle cx="312.5" cy="775.7" r="2.55" fill="#000"/>
<circle cx="302.2" cy="775.1" r="2.55" fill="#000"/>
<circle cx="312" cy="775" r="2.55" fill="#000"/>
<circle cx="298.4" cy="774.8" r="2.55" fill="#000"/>
<circle cx="304.9" cy="774.8" r="2.55" fill="#000"/>
<circle cx="293.2" cy="774.8" r="2.55" fill="#000"/>
<circle cx="312" cy="776.6" r="2.55" fill="#000"/>
<circle cx="313.5" cy="776.7" r="2.55" fill="#000"/>
<circle cx="295.5" cy="776.1" r="2.55" fill="#000"/>
<circle cx="296.6" cy="776" r="2.55" fill="#000"/>
<circle cx="315.4" cy="775.5" r="2.55" fill="#000"/>
<circle cx="309.9" cy="776.3" r="2.55" fill="#000"/>
<circle cx="311.9" cy="775.2" r="2.55" fill="#000"/>
<circle cx="309.1" cy="774.8" r="2.55" fill="#000"/>
<circle cx="313.1" cy="776.2" r="2.55" fill="#000"/>
<circle cx="292.4" cy="775.6" r="2.55" fill="#000"/>
<circle cx="313.4" cy="776.4" r="2.55" fill="#000"/>
<circle cx="306.7" cy="775.1" r="2.55" fill="#000"/>
<circle cx="312.2" cy="777.3" r="2.55" fill="#000"/>
<circle cx="303.7" cy="777.2" r="2.55" fill="#000"/>
<circle cx="293.1" cy="775.2" r="2.55" fill="#000"/>
<circle cx="150.9" cy="661" r="2.55" fill="#ff0a8c"/>
<circle cx="142.3" cy="723.4" r="2.55" fill="#ff0a8c"/>
<circle cx="125.2" cy="730.6" r="2.55" fill="#ff0a8c"/>
<circle cx="201.2" cy="725.7" r="2.55" fill="#ff0a8c"/>
<circle cx="95.6" cy="746.8" r="2.55" fill="#ff0a8c"/>
<circle cx="132.3" cy="747" r="2.55" fill="#ff0a8c"/>
<circle cx="135.8" cy="753.8" r="2.55" fill="#ff0a8c"/>
<circle cx="125.2" cy="756.1" r="2.55" fill="#ff0a8c"/>
<circle cx="96" cy="759.1" r="2.55" fill="#ff0a8c"/>
<circle cx="101.9" cy="762.6" r="2.55" fill="#ff0a8c"/>
<circle cx="104.9" cy="764.5" r="2.55" fill="#ff0a8c"/>
<circle cx="111.9" cy="769.6" r="2.55" fill="#ff0a8c"/>
<circle cx="123.6" cy="768.9" r="2.55" fill="#ff0a8c"/>
<circle cx="126.4" cy="770.3" r="2.55" fill="#ff0a8c"/>
<circle cx="142.8" cy="768" r="2.55" fill="#ff0a8c"/>
<circle cx="83.2" cy="770.3" r="2.55" fill="#ff0a8c"/>
<circle cx="198.4" cy="745.6" r="2.55" fill="#ff0a8c"/>
<circle cx="197.2" cy="755.6" r="2.55" fill="#ff0a8c"/>
<circle cx="194.9" cy="768" r="2.55" fill="#ff0a8c"/>
<circle cx="275" cy="706.9" r="2.55" fill="#ff0a8c"/>
<circle cx="218" cy="748.4" r="2.55" fill="#ff0a8c"/>
<circle cx="277.6" cy="765.3" r="2.55" fill="#ff0a8c"/>
<circle cx="267.1" cy="768.8" r="2.55" fill="#ff0a8c"/>
<circle cx="284.6" cy="771.8" r="2.55" fill="#ff0a8c"/>
<circle cx="328.5" cy="754.3" r="2.55" fill="#ff0a8c"/>
<circle cx="323.6" cy="766" r="2.55" fill="#ff0a8c"/>
<circle cx="330.6" cy="766.9" r="2.55" fill="#ff0a8c"/>
<circle cx="343" cy="768.8" r="2.55" fill="#ff0a8c"/>
<circle cx="350.7" cy="769.5" r="2.55" fill="#ff0a8c"/>
<circle cx="219.2" cy="773" r="2.55" fill="#ff0a8c"/>
<circle cx="449.1" cy="720.9" r="2.55" fill="#ff0a8c"/>
<circle cx="507" cy="715.7" r="2.55" fill="#ff0a8c"/>
<circle cx="402.4" cy="756.6" r="2.55" fill="#ff0a8c"/>
<circle cx="457.2" cy="771.6" r="2.55" fill="#ff0a8c"/>
<circle cx="487.1" cy="768.8" r="2.55" fill="#ff0a8c"/>
<circle cx="506.3" cy="769.2" r="2.55" fill="#ff0a8c"/>
<circle cx="390.2" cy="773" r="2.55" fill="#ff0a8c"/>
<circle cx="398.4" cy="773.9" r="2.55" fill="#ff0a8c"/>
<circle cx="404.2" cy="774.6" r="2.55" fill="#ff0a8c"/>
<circle cx="422.2" cy="666" r="2.55" fill="#ff0a8c"/>
<circle cx="629.5" cy="696.4" r="2.55" fill="#ff0a8c"/>
<circle cx="573.5" cy="762.7" r="2.55" fill="#ff0a8c"/>
<circle cx="595.7" cy="762.4" r="2.55" fill="#ff0a8c"/>
<circle cx="591.7" cy="771.9" r="2.55" fill="#ff0a8c"/>
<circle cx="598.3" cy="771.1" r="2.55" fill="#ff0a8c"/>
<circle cx="638.2" cy="767.7" r="2.55" fill="#ff0a8c"/>
<circle cx="644" cy="767.7" r="2.55" fill="#ff0a8c"/>
<circle cx="529.6" cy="769" r="2.55" fill="#ff0a8c"/>
<circle cx="630.3" cy="772.5" r="2.55" fill="#ff0a8c"/>
<circle cx="159.8" cy="751.4" r="2.55" fill="#000"/>
<circle cx="172.7" cy="747" r="2.55" fill="#000"/>
<circle cx="186.7" cy="754.5" r="2.55" fill="#000"/>
<circle cx="189.5" cy="752.8" r="2.55" fill="#000"/>
<circle cx="166.8" cy="768.9" r="2.55" fill="#000"/>
<circle cx="187.8" cy="769.6" r="2.55" fill="#000"/>
<circle cx="240.9" cy="754.3" r="2.55" fill="#000"/>
<circle cx="247.2" cy="755.9" r="2.55" fill="#000"/>
<circle cx="243.2" cy="762.5" r="2.55" fill="#000"/>
<circle cx="240.9" cy="766" r="2.55" fill="#000"/>
<circle cx="254.9" cy="762.9" r="2.55" fill="#000"/>
<circle cx="232.5" cy="771.1" r="2.55" fill="#000"/>
<circle cx="226.9" cy="773.9" r="2.55" fill="#000"/>
<circle cx="302.1" cy="750.1" r="2.55" fill="#000"/>
<circle cx="307.5" cy="759.9" r="2.55" fill="#000"/>
<circle cx="315" cy="761.1" r="2.55" fill="#000"/>
<circle cx="310.3" cy="769.5" r="2.55" fill="#000"/>
<circle cx="383.2" cy="758.7" r="2.55" fill="#000"/>
<circle cx="378.1" cy="769.2" r="2.55" fill="#000"/>
<circle cx="387.9" cy="770.6" r="2.55" fill="#000"/>
<circle cx="428.7" cy="752.4" r="2.55" fill="#000"/>
<circle cx="442.3" cy="753.1" r="2.55" fill="#000"/>
<circle cx="433.4" cy="760.6" r="2.55" fill="#000"/>
<circle cx="436.2" cy="766" r="2.55" fill="#000"/>
<circle cx="438.6" cy="764.1" r="2.55" fill="#000"/>
<circle cx="434.6" cy="768.3" r="2.55" fill="#000"/>
<circle cx="467.3" cy="769.5" r="2.55" fill="#000"/>
<circle cx="476.6" cy="765.3" r="2.55" fill="#000"/>
<circle cx="481.3" cy="756.6" r="2.55" fill="#000"/>
<circle cx="480.8" cy="771.6" r="2.55" fill="#000"/>
<circle cx="551" cy="603.9" r="2.55" fill="#000"/>
<circle cx="566.6" cy="724.9" r="2.55" fill="#000"/>
<circle cx="609.7" cy="753.4" r="2.55" fill="#000"/>
<circle cx="624.7" cy="762.7" r="2.55" fill="#000"/>
<circle cx="567.9" cy="764.5" r="2.55" fill="#000"/>
<circle cx="534.4" cy="769.8" r="2.55" fill="#000"/>
<circle cx="566.6" cy="773" r="2.55" fill="#000"/>
<circle cx="554.2" cy="772.5" r="2.55" fill="#000"/>
<circle cx="655.4" cy="771.7" r="2.55" fill="#000"/>
<rect x="55.5" y="571" width="627.1" height="215" fill="none" stroke="#525252" stroke-width="1.7"/>
<line x1="47.2" y1="778.3" x2="55.5" y2="778.3" stroke="#525252" stroke-width="1.7"/>
<text class="s w2" x="0" y="0" font-size="16.1" text-anchor="middle" transform="translate(41.4 778.9) rotate(-90)">0</text>
<line x1="47.2" y1="726.8" x2="55.5" y2="726.8" stroke="#525252" stroke-width="1.7"/>
<text class="s w2" x="0" y="0" font-size="16.1" text-anchor="middle" transform="translate(41.4 727.4) rotate(-90)">2</text>
<line x1="47.2" y1="675.3" x2="55.5" y2="675.3" stroke="#525252" stroke-width="1.7"/>
<text class="s w2" x="0" y="0" font-size="16.1" text-anchor="middle" transform="translate(41.4 675.9) rotate(-90)">4</text>
<line x1="47.2" y1="623.8" x2="55.5" y2="623.8" stroke="#525252" stroke-width="1.7"/>
<text class="s w2" x="0" y="0" font-size="16.1" text-anchor="middle" transform="translate(41.4 624.4) rotate(-90)">6</text>
<line x1="47.2" y1="572.3" x2="55.5" y2="572.3" stroke="#525252" stroke-width="1.7"/>
<text class="s w2" x="0" y="0" font-size="16.1" text-anchor="middle" transform="translate(41.4 572.9) rotate(-90)">8</text>
<line x1="116.3" y1="786" x2="116.3" y2="794.3" stroke="#525252" stroke-width="1.7"/>
<text class="s w3" x="0" y="0" font-size="13" font-weight="bold" text-anchor="middle" transform="translate(116.3 810) scale(0.84 1)">1</text>
<line x1="172.1" y1="786" x2="172.1" y2="794.3" stroke="#525252" stroke-width="1.7"/>
<text class="s w3" x="0" y="0" font-size="13" font-weight="bold" text-anchor="middle" transform="translate(172.1 810) scale(0.84 1)">2</text>
<line x1="208.2" y1="786" x2="208.2" y2="794.3" stroke="#525252" stroke-width="1.7"/>
<text class="s w3" x="0" y="0" font-size="13" font-weight="bold" text-anchor="middle" transform="translate(208.2 810) scale(0.84 1)">3</text>
<line x1="242.3" y1="786" x2="242.3" y2="794.3" stroke="#525252" stroke-width="1.7"/>
<text class="s w3" x="0" y="0" font-size="13" font-weight="bold" text-anchor="middle" transform="translate(242.3 810) scale(0.84 1)">4</text>
<line x1="273.8" y1="786" x2="273.8" y2="794.3" stroke="#525252" stroke-width="1.7"/>
<text class="s w3" x="0" y="0" font-size="13" font-weight="bold" text-anchor="middle" transform="translate(273.8 810) scale(0.84 1)">5</text>
<line x1="304.9" y1="786" x2="304.9" y2="794.3" stroke="#525252" stroke-width="1.7"/>
<text class="s w3" x="0" y="0" font-size="13" font-weight="bold" text-anchor="middle" transform="translate(304.9 810) scale(0.84 1)">6</text>
<line x1="339.1" y1="786" x2="339.1" y2="794.3" stroke="#525252" stroke-width="1.7"/>
<text class="s w3" x="0" y="0" font-size="13" font-weight="bold" text-anchor="middle" transform="translate(339.1 810) scale(0.84 1)">7</text>
<line x1="372.7" y1="786" x2="372.7" y2="794.3" stroke="#525252" stroke-width="1.7"/>
<text class="s w3" x="0" y="0" font-size="13" font-weight="bold" text-anchor="middle" transform="translate(372.7 810) scale(0.84 1)">8</text>
<line x1="408" y1="786" x2="408" y2="794.3" stroke="#525252" stroke-width="1.7"/>
<text class="s w3" x="0" y="0" font-size="13" font-weight="bold" text-anchor="middle" transform="translate(408 810) scale(0.84 1)">9</text>
<line x1="438.2" y1="786" x2="438.2" y2="794.3" stroke="#525252" stroke-width="1.7"/>
<text class="s w3" x="0" y="0" font-size="13" font-weight="bold" text-anchor="middle" transform="translate(438.2 810) scale(0.84 1)">10</text>
<line x1="456.8" y1="786" x2="456.8" y2="794.3" stroke="#525252" stroke-width="1.7"/>
<text class="s w3" x="0" y="0" font-size="13" font-weight="bold" text-anchor="middle" transform="translate(456.8 810) scale(0.84 1)">11</text>
<line x1="474.4" y1="786" x2="474.4" y2="794.3" stroke="#525252" stroke-width="1.7"/>
<text class="s w3" x="0" y="0" font-size="13" font-weight="bold" text-anchor="middle" transform="translate(474.4 810) scale(0.84 1)">12</text>
<line x1="508.7" y1="786" x2="508.7" y2="794.3" stroke="#525252" stroke-width="1.7"/>
<text class="s w3" x="0" y="0" font-size="13" font-weight="bold" text-anchor="middle" transform="translate(508.7 810) scale(0.84 1)">13</text>
<line x1="552.5" y1="786" x2="552.5" y2="794.3" stroke="#525252" stroke-width="1.7"/>
<text class="s w3" x="0" y="0" font-size="13" font-weight="bold" text-anchor="middle" transform="translate(552.5 810) scale(0.84 1)">14</text>
<line x1="589.2" y1="786" x2="589.2" y2="794.3" stroke="#525252" stroke-width="1.7"/>
<text class="s w3" x="0" y="0" font-size="13" font-weight="bold" text-anchor="middle" transform="translate(589.2 810) scale(0.84 1)">15</text>
<line x1="618" y1="786" x2="618" y2="794.3" stroke="#525252" stroke-width="1.7"/>
<text class="s w3" x="0" y="0" font-size="13" font-weight="bold" text-anchor="middle" transform="translate(618 810) scale(0.84 1)">16</text>
<line x1="638.1" y1="786" x2="638.1" y2="794.3" stroke="#525252" stroke-width="1.7"/>
<text class="s w3" x="0" y="0" font-size="13" font-weight="bold" text-anchor="middle" transform="translate(638.1 810) scale(0.84 1)">17</text>
<line x1="653.2" y1="786" x2="653.2" y2="794.3" stroke="#525252" stroke-width="1.7"/>
<text class="s w3" x="0" y="0" font-size="13" font-weight="bold" text-anchor="middle" transform="translate(653.2 810) scale(0.84 1)">18</text>
<text class="s w" x="369.1" y="831" font-size="15.4" text-anchor="middle">Chromosome</text>
<text class="s w" x="0" y="0" font-size="16.1" text-anchor="middle" transform="translate(12.8 678.2) rotate(-90)">Variance Explained (%)</text>
<text class="s" x="19.3" y="568" font-size="17.4" font-weight="bold">c</text>
<text class="t" x="481.8" y="660.9" font-size="18.4" font-style="italic">PTGS2</text>
<text class="t" x="481.8" y="682.2" font-size="18.4" font-style="italic">PLA2G4A</text>
<polygon points="459.2,661 442.8,661 442.8,656.8 434.7,665.1 442.8,673.4 442.8,669.2 459.2,669.2" fill="#5b9bd5" stroke="#41719c" stroke-width="1.8"/>
</g>
<g id="pd">
<rect x="76.2" y="1053.1" width="75.9" height="5.7" rx="2.5" fill="#ff0a8c"/>
<circle cx="108.4" cy="1055.6" r="2.55" fill="#ff0a8c"/>
<circle cx="102.5" cy="1055.8" r="2.55" fill="#ff0a8c"/>
<circle cx="138.5" cy="1055.8" r="2.55" fill="#ff0a8c"/>
<circle cx="85" cy="1055.3" r="2.55" fill="#ff0a8c"/>
<circle cx="110" cy="1055.2" r="2.55" fill="#ff0a8c"/>
<circle cx="87.3" cy="1056.1" r="2.55" fill="#ff0a8c"/>
<circle cx="137" cy="1055.9" r="2.55" fill="#ff0a8c"/>
<circle cx="146.6" cy="1055.9" r="2.55" fill="#ff0a8c"/>
<circle cx="141.8" cy="1055.1" r="2.55" fill="#ff0a8c"/>
<circle cx="106.7" cy="1055" r="2.55" fill="#ff0a8c"/>
<circle cx="114.6" cy="1053.2" r="2.55" fill="#ff0a8c"/>
<circle cx="137.6" cy="1055.5" r="2.55" fill="#ff0a8c"/>
<circle cx="78.8" cy="1055" r="2.55" fill="#ff0a8c"/>
<circle cx="110.9" cy="1054.8" r="2.55" fill="#ff0a8c"/>
<circle cx="103.7" cy="1055.5" r="2.55" fill="#ff0a8c"/>
<circle cx="139.8" cy="1055.7" r="2.55" fill="#ff0a8c"/>
<circle cx="144.5" cy="1054.2" r="2.55" fill="#ff0a8c"/>
<circle cx="84.1" cy="1055.6" r="2.55" fill="#ff0a8c"/>
<circle cx="146.6" cy="1055.4" r="2.55" fill="#ff0a8c"/>
<circle cx="123.5" cy="1055.5" r="2.55" fill="#ff0a8c"/>
<circle cx="126.6" cy="1054.4" r="2.55" fill="#ff0a8c"/>
<circle cx="104.5" cy="1053.5" r="2.55" fill="#ff0a8c"/>
<circle cx="137.9" cy="1055.5" r="2.55" fill="#ff0a8c"/>
<circle cx="110.4" cy="1053.8" r="2.55" fill="#ff0a8c"/>
<circle cx="130.4" cy="1055.1" r="2.55" fill="#ff0a8c"/>
<circle cx="101.8" cy="1055" r="2.55" fill="#ff0a8c"/>
<circle cx="141.9" cy="1055.5" r="2.55" fill="#ff0a8c"/>
<circle cx="119.6" cy="1055.7" r="2.55" fill="#ff0a8c"/>
<circle cx="131.7" cy="1055.8" r="2.55" fill="#ff0a8c"/>
<circle cx="132.7" cy="1055.5" r="2.55" fill="#ff0a8c"/>
<circle cx="108.5" cy="1052" r="2.55" fill="#ff0a8c"/>
<circle cx="135.7" cy="1055.7" r="2.55" fill="#ff0a8c"/>
<circle cx="146.9" cy="1055.3" r="2.55" fill="#ff0a8c"/>
<circle cx="98.4" cy="1055.5" r="2.55" fill="#ff0a8c"/>
<circle cx="137.2" cy="1054.7" r="2.55" fill="#ff0a8c"/>
<circle cx="88.7" cy="1055.1" r="2.55" fill="#ff0a8c"/>
<circle cx="90.2" cy="1054.9" r="2.55" fill="#ff0a8c"/>
<circle cx="100.8" cy="1055.8" r="2.55" fill="#ff0a8c"/>
<circle cx="105.9" cy="1051.2" r="2.55" fill="#ff0a8c"/>
<circle cx="92" cy="1055" r="2.55" fill="#ff0a8c"/>
<circle cx="92.7" cy="1055.6" r="2.55" fill="#ff0a8c"/>
<circle cx="86.4" cy="1055.7" r="2.55" fill="#ff0a8c"/>
<circle cx="106" cy="1053" r="2.55" fill="#ff0a8c"/>
<circle cx="93.2" cy="1054.5" r="2.55" fill="#ff0a8c"/>
<circle cx="138" cy="1055.2" r="2.55" fill="#ff0a8c"/>
<circle cx="101" cy="1055.2" r="2.55" fill="#ff0a8c"/>
<circle cx="112" cy="1055.4" r="2.55" fill="#ff0a8c"/>
<rect x="152.1" y="1053.1" width="36.9" height="5.7" rx="2.5" fill="#000"/>
<circle cx="178.6" cy="1055.7" r="2.55" fill="#000"/>
<circle cx="183.8" cy="1055.8" r="2.55" fill="#000"/>
<circle cx="174.7" cy="1055.2" r="2.55" fill="#000"/>
<circle cx="156" cy="1054.3" r="2.55" fill="#000"/>
<circle cx="165.9" cy="1054.8" r="2.55" fill="#000"/>
<circle cx="162.4" cy="1055.5" r="2.55" fill="#000"/>
<circle cx="178.6" cy="1055.7" r="2.55" fill="#000"/>
<circle cx="180.3" cy="1055.8" r="2.55" fill="#000"/>
<circle cx="175.2" cy="1052.1" r="2.55" fill="#000"/>
<circle cx="176.7" cy="1054.6" r="2.55" fill="#000"/>
<circle cx="184.6" cy="1054.7" r="2.55" fill="#000"/>
<circle cx="167.1" cy="1054.7" r="2.55" fill="#000"/>
<circle cx="160.6" cy="1054.4" r="2.55" fill="#000"/>
<circle cx="171.2" cy="1055.1" r="2.55" fill="#000"/>
<circle cx="158.9" cy="1056.1" r="2.55" fill="#000"/>
<circle cx="167.8" cy="1055.1" r="2.55" fill="#000"/>
<circle cx="175.9" cy="1055.7" r="2.55" fill="#000"/>
<circle cx="172.9" cy="1055.1" r="2.55" fill="#000"/>
<circle cx="179.7" cy="1055" r="2.55" fill="#000"/>
<circle cx="176" cy="1054.4" r="2.55" fill="#000"/>
<circle cx="183.2" cy="1054.1" r="2.55" fill="#000"/>
<circle cx="180.8" cy="1055.1" r="2.55" fill="#000"/>
<circle cx="158.8" cy="1055.3" r="2.55" fill="#000"/>
<rect x="189" y="1053.1" width="34.9" height="5.7" rx="2.5" fill="#ff0a8c"/>
<circle cx="209.8" cy="1056.1" r="2.55" fill="#ff0a8c"/>
<circle cx="209.5" cy="1054.8" r="2.55" fill="#ff0a8c"/>
<circle cx="197.9" cy="1056.1" r="2.55" fill="#ff0a8c"/>
<circle cx="211.7" cy="1051.6" r="2.55" fill="#ff0a8c"/>
<circle cx="202.3" cy="1056.1" r="2.55" fill="#ff0a8c"/>
<circle cx="216.5" cy="1056.2" r="2.55" fill="#ff0a8c"/>
<circle cx="210.3" cy="1055.9" r="2.55" fill="#ff0a8c"/>
<circle cx="193.3" cy="1055.5" r="2.55" fill="#ff0a8c"/>
<circle cx="215.6" cy="1055.2" r="2.55" fill="#ff0a8c"/>
<circle cx="194.8" cy="1055.4" r="2.55" fill="#ff0a8c"/>
<circle cx="201.7" cy="1055.5" r="2.55" fill="#ff0a8c"/>
<circle cx="198" cy="1054.9" r="2.55" fill="#ff0a8c"/>
<circle cx="216.6" cy="1054.4" r="2.55" fill="#ff0a8c"/>
<circle cx="192.5" cy="1055.1" r="2.55" fill="#ff0a8c"/>
<circle cx="206.6" cy="1056.1" r="2.55" fill="#ff0a8c"/>
<circle cx="210.3" cy="1054.3" r="2.55" fill="#ff0a8c"/>
<circle cx="203.5" cy="1055.5" r="2.55" fill="#ff0a8c"/>
<circle cx="198.3" cy="1053.7" r="2.55" fill="#ff0a8c"/>
<circle cx="215.5" cy="1052.8" r="2.55" fill="#ff0a8c"/>
<circle cx="220.9" cy="1055.6" r="2.55" fill="#ff0a8c"/>
<circle cx="195.5" cy="1055.3" r="2.55" fill="#ff0a8c"/>
<rect x="223.9" y="1053.1" width="34.5" height="5.7" rx="2.5" fill="#000"/>
<circle cx="247.3" cy="1055.8" r="2.55" fill="#000"/>
<circle cx="232" cy="1055.8" r="2.55" fill="#000"/>
<circle cx="232.2" cy="1054.4" r="2.55" fill="#000"/>
<circle cx="239.3" cy="1055.3" r="2.55" fill="#000"/>
<circle cx="232.2" cy="1055.5" r="2.55" fill="#000"/>
<circle cx="247.1" cy="1051.8" r="2.55" fill="#000"/>
<circle cx="254.3" cy="1054.1" r="2.55" fill="#000"/>
<circle cx="247.6" cy="1055.9" r="2.55" fill="#000"/>
<circle cx="226.8" cy="1054.1" r="2.55" fill="#000"/>
<circle cx="245" cy="1055.8" r="2.55" fill="#000"/>
<circle cx="231.3" cy="1054.9" r="2.55" fill="#000"/>
<circle cx="235.4" cy="1056" r="2.55" fill="#000"/>
<circle cx="236.9" cy="1054" r="2.55" fill="#000"/>
<circle cx="239.8" cy="1056.1" r="2.55" fill="#000"/>
<circle cx="231" cy="1054.5" r="2.55" fill="#000"/>
<circle cx="255.6" cy="1054" r="2.55" fill="#000"/>
<circle cx="240.5" cy="1055" r="2.55" fill="#000"/>
<circle cx="229.7" cy="1055.6" r="2.55" fill="#000"/>
<circle cx="232.6" cy="1056.2" r="2.55" fill="#000"/>
<circle cx="253.2" cy="1055" r="2.55" fill="#000"/>
<circle cx="255.3" cy="1055.3" r="2.55" fill="#000"/>
<rect x="258.4" y="1053.1" width="26.9" height="5.7" rx="2.5" fill="#ff0a8c"/>
<circle cx="269.3" cy="1053.9" r="2.55" fill="#ff0a8c"/>
<circle cx="263.9" cy="1055.9" r="2.55" fill="#ff0a8c"/>
<circle cx="273.7" cy="1056.2" r="2.55" fill="#ff0a8c"/>
<circle cx="279.1" cy="1054.5" r="2.55" fill="#ff0a8c"/>
<circle cx="261.9" cy="1054.4" r="2.55" fill="#ff0a8c"/>
<circle cx="262.5" cy="1055.4" r="2.55" fill="#ff0a8c"/>
<circle cx="280.2" cy="1055.4" r="2.55" fill="#ff0a8c"/>
<circle cx="265.4" cy="1055.1" r="2.55" fill="#ff0a8c"/>
<circle cx="269.3" cy="1055.5" r="2.55" fill="#ff0a8c"/>
<circle cx="263.7" cy="1055.6" r="2.55" fill="#ff0a8c"/>
<circle cx="273.7" cy="1055.3" r="2.55" fill="#ff0a8c"/>
<circle cx="270.5" cy="1055.3" r="2.55" fill="#ff0a8c"/>
<circle cx="262.1" cy="1055.7" r="2.55" fill="#ff0a8c"/>
<circle cx="275.6" cy="1055.9" r="2.55" fill="#ff0a8c"/>
<circle cx="275.1" cy="1055.6" r="2.55" fill="#ff0a8c"/>
<circle cx="264" cy="1054.3" r="2.55" fill="#ff0a8c"/>
<rect x="285.3" y="1053.1" width="36.7" height="5.7" rx="2.5" fill="#000"/>
<circle cx="289.8" cy="1055" r="2.55" fill="#000"/>
<circle cx="295.1" cy="1055.2" r="2.55" fill="#000"/>
<circle cx="313.9" cy="1055.3" r="2.55" fill="#000"/>
<circle cx="289.1" cy="1055" r="2.55" fill="#000"/>
<circle cx="313.2" cy="1056.1" r="2.55" fill="#000"/>
<circle cx="295.4" cy="1054.9" r="2.55" fill="#000"/>
<circle cx="309.1" cy="1054.2" r="2.55" fill="#000"/>
<circle cx="316.9" cy="1056" r="2.55" fill="#000"/>
<circle cx="288.4" cy="1055" r="2.55" fill="#000"/>
<circle cx="318.6" cy="1056" r="2.55" fill="#000"/>
<circle cx="313.4" cy="1055.6" r="2.55" fill="#000"/>
<circle cx="291.2" cy="1053.8" r="2.55" fill="#000"/>
<circle cx="316.8" cy="1055.1" r="2.55" fill="#000"/>
<circle cx="305.4" cy="1054.4" r="2.55" fill="#000"/>
<circle cx="307.4" cy="1055.2" r="2.55" fill="#000"/>
<circle cx="290.3" cy="1055.5" r="2.55" fill="#000"/>
<circle cx="297" cy="1056.2" r="2.55" fill="#000"/>
<circle cx="311.4" cy="1055.2" r="2.55" fill="#000"/>
<circle cx="313.5" cy="1056" r="2.55" fill="#000"/>
<circle cx="308.4" cy="1055.7" r="2.55" fill="#000"/>
<circle cx="291.3" cy="1052.3" r="2.55" fill="#000"/>
<circle cx="299" cy="1055.3" r="2.55" fill="#000"/>
<rect x="322" y="1053.1" width="33.8" height="5.7" rx="2.5" fill="#ff0a8c"/>
<circle cx="348.9" cy="1055" r="2.55" fill="#ff0a8c"/>
<circle cx="335.1" cy="1055.2" r="2.55" fill="#ff0a8c"/>
<circle cx="328.8" cy="1055" r="2.55" fill="#ff0a8c"/>
<circle cx="346.6" cy="1056.1" r="2.55" fill="#ff0a8c"/>
<circle cx="327.8" cy="1055.4" r="2.55" fill="#ff0a8c"/>
<circle cx="339.5" cy="1055.7" r="2.55" fill="#ff0a8c"/>
<circle cx="342.1" cy="1055" r="2.55" fill="#ff0a8c"/>
<circle cx="345.6" cy="1053.8" r="2.55" fill="#ff0a8c"/>
<circle cx="348.6" cy="1056.2" r="2.55" fill="#ff0a8c"/>
<circle cx="344.1" cy="1054.5" r="2.55" fill="#ff0a8c"/>
<circle cx="349.8" cy="1055" r="2.55" fill="#ff0a8c"/>
<circle cx="337.2" cy="1055.9" r="2.55" fill="#ff0a8c"/>
<circle cx="333.2" cy="1055.8" r="2.55" fill="#ff0a8c"/>
<circle cx="327.3" cy="1055" r="2.55" fill="#ff0a8c"/>
<circle cx="343.3" cy="1054" r="2.55" fill="#ff0a8c"/>
<circle cx="348.6" cy="1051.8" r="2.55" fill="#ff0a8c"/>
<circle cx="332.4" cy="1055.7" r="2.55" fill="#ff0a8c"/>
<circle cx="325.2" cy="1055.1" r="2.55" fill="#ff0a8c"/>
<circle cx="351" cy="1055.2" r="2.55" fill="#ff0a8c"/>
<circle cx="346.8" cy="1054" r="2.55" fill="#ff0a8c"/>
<circle cx="339.8" cy="1055.2" r="2.55" fill="#ff0a8c"/>
<rect x="355.8" y="1053.1" width="34.4" height="5.7" rx="2.5" fill="#000"/>
<circle cx="367.5" cy="1055.7" r="2.55" fill="#000"/>
<circle cx="374.1" cy="1053.3" r="2.55" fill="#000"/>
<circle cx="373.9" cy="1055.5" r="2.55" fill="#000"/>
<circle cx="385.8" cy="1055" r="2.55" fill="#000"/>
<circle cx="378.6" cy="1053.4" r="2.55" fill="#000"/>
<circle cx="364.6" cy="1055.1" r="2.55" fill="#000"/>
<circle cx="358.7" cy="1055.3" r="2.55" fill="#000"/>
<circle cx="387.3" cy="1055.6" r="2.55" fill="#000"/>
<circle cx="378.5" cy="1055.3" r="2.55" fill="#000"/>
<circle cx="380.4" cy="1055.9" r="2.55" fill="#000"/>
<circle cx="359.2" cy="1055.9" r="2.55" fill="#000"/>
<circle cx="366" cy="1052" r="2.55" fill="#000"/>
<circle cx="375.7" cy="1055.4" r="2.55" fill="#000"/>
<circle cx="378.7" cy="1056.1" r="2.55" fill="#000"/>
<circle cx="360.3" cy="1055.7" r="2.55" fill="#000"/>
<circle cx="362.5" cy="1055.6" r="2.55" fill="#000"/>
<circle cx="386.8" cy="1055.9" r="2.55" fill="#000"/>
<circle cx="380.9" cy="1056.1" r="2.55" fill="#000"/>
<circle cx="367.2" cy="1055.3" r="2.55" fill="#000"/>
<circle cx="371.4" cy="1055" r="2.55" fill="#000"/>
<circle cx="385.7" cy="1055.1" r="2.55" fill="#000"/>
<rect x="390.2" y="1053.1" width="35" height="5.7" rx="2.5" fill="#ff0a8c"/>
<circle cx="393.7" cy="1054.8" r="2.55" fill="#ff0a8c"/>
<circle cx="418.3" cy="1054.2" r="2.55" fill="#ff0a8c"/>
<circle cx="401.1" cy="1056" r="2.55" fill="#ff0a8c"/>
<circle cx="419.8" cy="1055.4" r="2.55" fill="#ff0a8c"/>
<circle cx="410.3" cy="1056" r="2.55" fill="#ff0a8c"/>
<circle cx="397" cy="1055" r="2.55" fill="#ff0a8c"/>
<circle cx="404.2" cy="1055.5" r="2.55" fill="#ff0a8c"/>
<circle cx="399.4" cy="1056.2" r="2.55" fill="#ff0a8c"/>
<circle cx="418.2" cy="1055" r="2.55" fill="#ff0a8c"/>
<circle cx="403.6" cy="1055" r="2.55" fill="#ff0a8c"/>
<circle cx="416.3" cy="1055.7" r="2.55" fill="#ff0a8c"/>
<circle cx="408.4" cy="1055.9" r="2.55" fill="#ff0a8c"/>
<circle cx="416.5" cy="1055.7" r="2.55" fill="#ff0a8c"/>
<circle cx="415.6" cy="1056" r="2.55" fill="#ff0a8c"/>
<circle cx="399.3" cy="1055.7" r="2.55" fill="#ff0a8c"/>
<circle cx="411.9" cy="1055.1" r="2.55" fill="#ff0a8c"/>
<circle cx="394.3" cy="1055.1" r="2.55" fill="#ff0a8c"/>
<circle cx="399.8" cy="1055.6" r="2.55" fill="#ff0a8c"/>
<circle cx="396.2" cy="1055.3" r="2.55" fill="#ff0a8c"/>
<circle cx="395.6" cy="1055.6" r="2.55" fill="#ff0a8c"/>
<circle cx="397.9" cy="1055.6" r="2.55" fill="#ff0a8c"/>
<rect x="425.2" y="1053.1" width="19.4" height="5.7" rx="2.5" fill="#000"/>
<circle cx="429.4" cy="1055.7" r="2.55" fill="#000"/>
<circle cx="434.5" cy="1054.3" r="2.55" fill="#000"/>
<circle cx="428.8" cy="1055.3" r="2.55" fill="#000"/>
<circle cx="435.8" cy="1053.7" r="2.55" fill="#000"/>
<circle cx="440" cy="1055" r="2.55" fill="#000"/>
<circle cx="435.3" cy="1056" r="2.55" fill="#000"/>
<circle cx="440.1" cy="1056.1" r="2.55" fill="#000"/>
<circle cx="431.5" cy="1054.5" r="2.55" fill="#000"/>
<circle cx="438.2" cy="1055.6" r="2.55" fill="#000"/>
<circle cx="432.3" cy="1055.4" r="2.55" fill="#000"/>
<circle cx="432.9" cy="1055" r="2.55" fill="#000"/>
<circle cx="434.6" cy="1056.2" r="2.55" fill="#000"/>
<rect x="444.6" y="1053.1" width="20.4" height="5.7" rx="2.5" fill="#ff0a8c"/>
<circle cx="457.1" cy="1056.2" r="2.55" fill="#ff0a8c"/>
<circle cx="454.3" cy="1054.4" r="2.55" fill="#ff0a8c"/>
<circle cx="450.7" cy="1055.4" r="2.55" fill="#ff0a8c"/>
<circle cx="457.1" cy="1055.2" r="2.55" fill="#ff0a8c"/>
<circle cx="461.6" cy="1053.9" r="2.55" fill="#ff0a8c"/>
<circle cx="452.8" cy="1054.9" r="2.55" fill="#ff0a8c"/>
<circle cx="450.6" cy="1055.1" r="2.55" fill="#ff0a8c"/>
<circle cx="448.4" cy="1056.2" r="2.55" fill="#ff0a8c"/>
<circle cx="453.9" cy="1056" r="2.55" fill="#ff0a8c"/>
<circle cx="458.6" cy="1055" r="2.55" fill="#ff0a8c"/>
<circle cx="453.3" cy="1056.2" r="2.55" fill="#ff0a8c"/>
<circle cx="461.7" cy="1055.6" r="2.55" fill="#ff0a8c"/>
<rect x="465" y="1053.1" width="17" height="5.7" rx="2.5" fill="#000"/>
<circle cx="473.6" cy="1054.4" r="2.55" fill="#000"/>
<circle cx="479.4" cy="1055.9" r="2.55" fill="#000"/>
<circle cx="477.5" cy="1054.9" r="2.55" fill="#000"/>
<circle cx="473" cy="1055" r="2.55" fill="#000"/>
<circle cx="471.4" cy="1055.8" r="2.55" fill="#000"/>
<circle cx="475.5" cy="1055.7" r="2.55" fill="#000"/>
<circle cx="469.5" cy="1055.2" r="2.55" fill="#000"/>
<circle cx="474.8" cy="1055.6" r="2.55" fill="#000"/>
<circle cx="474.2" cy="1056" r="2.55" fill="#000"/>
<circle cx="470.4" cy="1055" r="2.55" fill="#000"/>
<rect x="482" y="1053.1" width="49.7" height="5.7" rx="2.5" fill="#ff0a8c"/>
<circle cx="491.2" cy="1055.5" r="2.55" fill="#ff0a8c"/>
<circle cx="510.5" cy="1055.1" r="2.55" fill="#ff0a8c"/>
<circle cx="495" cy="1055.5" r="2.55" fill="#ff0a8c"/>
<circle cx="504.7" cy="1055.1" r="2.55" fill="#ff0a8c"/>
<circle cx="514.1" cy="1053.7" r="2.55" fill="#ff0a8c"/>
<circle cx="496.5" cy="1054.6" r="2.55" fill="#ff0a8c"/>
<circle cx="486.9" cy="1055" r="2.55" fill="#ff0a8c"/>
<circle cx="485.3" cy="1055.8" r="2.55" fill="#ff0a8c"/>
<circle cx="527.7" cy="1054.6" r="2.55" fill="#ff0a8c"/>
<circle cx="508.2" cy="1054" r="2.55" fill="#ff0a8c"/>
<circle cx="513.7" cy="1056.1" r="2.55" fill="#ff0a8c"/>
<circle cx="495.4" cy="1055.5" r="2.55" fill="#ff0a8c"/>
<circle cx="520.3" cy="1053.7" r="2.55" fill="#ff0a8c"/>
<circle cx="493.1" cy="1055.1" r="2.55" fill="#ff0a8c"/>
<circle cx="510" cy="1055.3" r="2.55" fill="#ff0a8c"/>
<circle cx="496" cy="1055.7" r="2.55" fill="#ff0a8c"/>
<circle cx="507.9" cy="1056.1" r="2.55" fill="#ff0a8c"/>
<circle cx="517.6" cy="1055.6" r="2.55" fill="#ff0a8c"/>
<circle cx="514.5" cy="1055.2" r="2.55" fill="#ff0a8c"/>
<circle cx="505.8" cy="1055.3" r="2.55" fill="#ff0a8c"/>
<circle cx="513.4" cy="1055" r="2.55" fill="#ff0a8c"/>
<circle cx="519.6" cy="1055.7" r="2.55" fill="#ff0a8c"/>
<circle cx="527.3" cy="1055.7" r="2.55" fill="#ff0a8c"/>
<circle cx="527.4" cy="1054.8" r="2.55" fill="#ff0a8c"/>
<circle cx="517.3" cy="1055.4" r="2.55" fill="#ff0a8c"/>
<circle cx="518.8" cy="1055.9" r="2.55" fill="#ff0a8c"/>
<circle cx="494.1" cy="1056.2" r="2.55" fill="#ff0a8c"/>
<circle cx="490.6" cy="1055.7" r="2.55" fill="#ff0a8c"/>
<circle cx="488" cy="1055" r="2.55" fill="#ff0a8c"/>
<circle cx="510.3" cy="1055.3" r="2.55" fill="#ff0a8c"/>
<circle cx="504" cy="1055.6" r="2.55" fill="#ff0a8c"/>
<rect x="531.7" y="1053.1" width="35.7" height="5.7" rx="2.5" fill="#000"/>
<circle cx="534.8" cy="1056" r="2.55" fill="#000"/>
<circle cx="545.6" cy="1051.7" r="2.55" fill="#000"/>
<circle cx="559.8" cy="1055.4" r="2.55" fill="#000"/>
<circle cx="555.8" cy="1053.2" r="2.55" fill="#000"/>
<circle cx="557.7" cy="1055.9" r="2.55" fill="#000"/>
<circle cx="559.4" cy="1055.1" r="2.55" fill="#000"/>
<circle cx="561" cy="1055.9" r="2.55" fill="#000"/>
<circle cx="534.7" cy="1055.3" r="2.55" fill="#000"/>
<circle cx="542.6" cy="1056.2" r="2.55" fill="#000"/>
<circle cx="539.6" cy="1056.2" r="2.55" fill="#000"/>
<circle cx="541.3" cy="1055.3" r="2.55" fill="#000"/>
<circle cx="564.5" cy="1056.1" r="2.55" fill="#000"/>
<circle cx="562.8" cy="1053.3" r="2.55" fill="#000"/>
<circle cx="544.5" cy="1055.8" r="2.55" fill="#000"/>
<circle cx="547" cy="1055.9" r="2.55" fill="#000"/>
<circle cx="535.9" cy="1056" r="2.55" fill="#000"/>
<circle cx="537" cy="1055.3" r="2.55" fill="#000"/>
<circle cx="542.3" cy="1054.1" r="2.55" fill="#000"/>
<circle cx="544.7" cy="1056" r="2.55" fill="#000"/>
<circle cx="562.7" cy="1056.1" r="2.55" fill="#000"/>
<circle cx="539" cy="1055.7" r="2.55" fill="#000"/>
<circle cx="556.2" cy="1055.2" r="2.55" fill="#000"/>
<rect x="567.4" y="1053.1" width="37" height="5.7" rx="2.5" fill="#ff0a8c"/>
<circle cx="595.5" cy="1055.5" r="2.55" fill="#ff0a8c"/>
<circle cx="576.1" cy="1055.2" r="2.55" fill="#ff0a8c"/>
<circle cx="595.2" cy="1056.1" r="2.55" fill="#ff0a8c"/>
<circle cx="591.1" cy="1056" r="2.55" fill="#ff0a8c"/>
<circle cx="576.1" cy="1056.1" r="2.55" fill="#ff0a8c"/>
<circle cx="590.2" cy="1055.9" r="2.55" fill="#ff0a8c"/>
<circle cx="583.5" cy="1055.3" r="2.55" fill="#ff0a8c"/>
<circle cx="570.9" cy="1054.9" r="2.55" fill="#ff0a8c"/>
<circle cx="579.2" cy="1055.3" r="2.55" fill="#ff0a8c"/>
<circle cx="589.6" cy="1054.9" r="2.55" fill="#ff0a8c"/>
<circle cx="579.9" cy="1055.9" r="2.55" fill="#ff0a8c"/>
<circle cx="575" cy="1055.2" r="2.55" fill="#ff0a8c"/>
<circle cx="596.3" cy="1055" r="2.55" fill="#ff0a8c"/>
<circle cx="595.3" cy="1055.8" r="2.55" fill="#ff0a8c"/>
<circle cx="593" cy="1055.4" r="2.55" fill="#ff0a8c"/>
<circle cx="572.8" cy="1055.6" r="2.55" fill="#ff0a8c"/>
<circle cx="574.8" cy="1053.9" r="2.55" fill="#ff0a8c"/>
<circle cx="584.7" cy="1056" r="2.55" fill="#ff0a8c"/>
<circle cx="586.1" cy="1055.7" r="2.55" fill="#ff0a8c"/>
<circle cx="592.8" cy="1055.2" r="2.55" fill="#ff0a8c"/>
<circle cx="573.3" cy="1055.7" r="2.55" fill="#ff0a8c"/>
<circle cx="585.4" cy="1055.4" r="2.55" fill="#ff0a8c"/>
<circle cx="577" cy="1055.6" r="2.55" fill="#ff0a8c"/>
<rect x="604.4" y="1053.1" width="21.1" height="5.7" rx="2.5" fill="#000"/>
<circle cx="618.3" cy="1054.6" r="2.55" fill="#000"/>
<circle cx="614.1" cy="1053.8" r="2.55" fill="#000"/>
<circle cx="616.8" cy="1055.6" r="2.55" fill="#000"/>
<circle cx="617.1" cy="1056.2" r="2.55" fill="#000"/>
<circle cx="622.6" cy="1055" r="2.55" fill="#000"/>
<circle cx="614.4" cy="1055.8" r="2.55" fill="#000"/>
<circle cx="608" cy="1054" r="2.55" fill="#000"/>
<circle cx="613.9" cy="1055.7" r="2.55" fill="#000"/>
<circle cx="608.5" cy="1053.5" r="2.55" fill="#000"/>
<circle cx="611.6" cy="1055" r="2.55" fill="#000"/>
<circle cx="608.7" cy="1056" r="2.55" fill="#000"/>
<circle cx="615.5" cy="1054.9" r="2.55" fill="#000"/>
<circle cx="609.7" cy="1054.5" r="2.55" fill="#000"/>
<rect x="625.5" y="1053.1" width="17.7" height="5.7" rx="2.5" fill="#ff0a8c"/>
<circle cx="632.3" cy="1055.9" r="2.55" fill="#ff0a8c"/>
<circle cx="640.3" cy="1055.9" r="2.55" fill="#ff0a8c"/>
<circle cx="637.4" cy="1053.8" r="2.55" fill="#ff0a8c"/>
<circle cx="634" cy="1052.1" r="2.55" fill="#ff0a8c"/>
<circle cx="631.7" cy="1055.3" r="2.55" fill="#ff0a8c"/>
<circle cx="637.3" cy="1056" r="2.55" fill="#ff0a8c"/>
<circle cx="640.1" cy="1055.2" r="2.55" fill="#ff0a8c"/>
<circle cx="632.3" cy="1055.9" r="2.55" fill="#ff0a8c"/>
<circle cx="634" cy="1053.3" r="2.55" fill="#ff0a8c"/>
<circle cx="638.8" cy="1056" r="2.55" fill="#ff0a8c"/>
<circle cx="637.4" cy="1056" r="2.55" fill="#ff0a8c"/>
<rect x="643.2" y="1053.1" width="18.2" height="5.7" rx="2.5" fill="#000"/>
<circle cx="651.2" cy="1053.9" r="2.55" fill="#000"/>
<circle cx="653.3" cy="1055.2" r="2.55" fill="#000"/>
<circle cx="653.7" cy="1053.7" r="2.55" fill="#000"/>
<circle cx="650" cy="1053.9" r="2.55" fill="#000"/>
<circle cx="649.2" cy="1055.7" r="2.55" fill="#000"/>
<circle cx="650.4" cy="1056.1" r="2.55" fill="#000"/>
<circle cx="648.7" cy="1054.6" r="2.55" fill="#000"/>
<circle cx="654.1" cy="1054" r="2.55" fill="#000"/>
<circle cx="649" cy="1054" r="2.55" fill="#000"/>
<circle cx="658.7" cy="1054" r="2.55" fill="#000"/>
<circle cx="656.4" cy="1055.4" r="2.55" fill="#000"/>
<circle cx="91.4" cy="1052.2" r="2.55" fill="#ff0a8c"/>
<circle cx="84" cy="1053.3" r="2.55" fill="#ff0a8c"/>
<circle cx="90.1" cy="1052.3" r="2.55" fill="#ff0a8c"/>
<circle cx="90.4" cy="1052.2" r="2.55" fill="#ff0a8c"/>
<circle cx="105.4" cy="1052.1" r="2.55" fill="#ff0a8c"/>
<circle cx="84.2" cy="1051.9" r="2.55" fill="#ff0a8c"/>
<circle cx="102.3" cy="1052.8" r="2.55" fill="#ff0a8c"/>
<circle cx="99.6" cy="1055" r="2.55" fill="#ff0a8c"/>
<circle cx="106.1" cy="1053.2" r="2.55" fill="#ff0a8c"/>
<circle cx="93.7" cy="1054" r="2.55" fill="#ff0a8c"/>
<circle cx="103.5" cy="1052.4" r="2.55" fill="#ff0a8c"/>
<circle cx="106.1" cy="1054.4" r="2.55" fill="#ff0a8c"/>
<circle cx="90.2" cy="1054.3" r="2.55" fill="#ff0a8c"/>
<circle cx="83" cy="1054" r="2.55" fill="#ff0a8c"/>
<circle cx="80.8" cy="1052.4" r="2.55" fill="#ff0a8c"/>
<circle cx="86.8" cy="1054.9" r="2.55" fill="#ff0a8c"/>
<circle cx="82" cy="1052.6" r="2.55" fill="#ff0a8c"/>
<circle cx="86" cy="1053.6" r="2.55" fill="#ff0a8c"/>
<circle cx="92.1" cy="1052.3" r="2.55" fill="#ff0a8c"/>
<circle cx="108.6" cy="1054.1" r="2.55" fill="#ff0a8c"/>
<circle cx="99" cy="1052" r="2.55" fill="#ff0a8c"/>
<circle cx="94.1" cy="1052" r="2.55" fill="#ff0a8c"/>
<circle cx="102" cy="1054.1" r="2.55" fill="#ff0a8c"/>
<circle cx="106.2" cy="1053.2" r="2.55" fill="#ff0a8c"/>
<circle cx="83.2" cy="1053.1" r="2.55" fill="#ff0a8c"/>
<circle cx="185.3" cy="1052.4" r="2.55" fill="#000"/>
<circle cx="179.7" cy="1053" r="2.55" fill="#000"/>
<circle cx="186.1" cy="1051.7" r="2.55" fill="#000"/>
<circle cx="175.3" cy="1053.3" r="2.55" fill="#000"/>
<circle cx="177.8" cy="1050.1" r="2.55" fill="#000"/>
<circle cx="183.1" cy="1054.5" r="2.55" fill="#000"/>
<circle cx="186.6" cy="1055" r="2.55" fill="#000"/>
<circle cx="181.5" cy="1052.9" r="2.55" fill="#000"/>
<circle cx="183.5" cy="1052.9" r="2.55" fill="#000"/>
<circle cx="173.5" cy="1052.4" r="2.55" fill="#000"/>
<circle cx="185.1" cy="1051" r="2.55" fill="#000"/>
<circle cx="177.7" cy="1054" r="2.55" fill="#000"/>
<circle cx="183.9" cy="1050.9" r="2.55" fill="#000"/>
<circle cx="293" cy="1052.7" r="2.55" fill="#000"/>
<circle cx="317.8" cy="1054" r="2.55" fill="#000"/>
<circle cx="298.2" cy="1053.2" r="2.55" fill="#000"/>
<circle cx="315.8" cy="1054.6" r="2.55" fill="#000"/>
<circle cx="295.7" cy="1054.3" r="2.55" fill="#000"/>
<circle cx="309.4" cy="1054.7" r="2.55" fill="#000"/>
<circle cx="303.5" cy="1053.8" r="2.55" fill="#000"/>
<circle cx="307.4" cy="1054.8" r="2.55" fill="#000"/>
<circle cx="316.6" cy="1052.4" r="2.55" fill="#000"/>
<circle cx="304" cy="1053" r="2.55" fill="#000"/>
<circle cx="291.9" cy="1052.7" r="2.55" fill="#000"/>
<circle cx="303.6" cy="1053.1" r="2.55" fill="#000"/>
<circle cx="313.8" cy="1054.2" r="2.55" fill="#000"/>
<circle cx="315.6" cy="1054.6" r="2.55" fill="#000"/>
<circle cx="286.7" cy="1053.8" r="2.55" fill="#000"/>
<circle cx="314.8" cy="1052.7" r="2.55" fill="#000"/>
<circle cx="316.6" cy="1053.8" r="2.55" fill="#000"/>
<circle cx="315.8" cy="1053.6" r="2.55" fill="#000"/>
<circle cx="290.6" cy="1053.4" r="2.55" fill="#000"/>
<circle cx="311.7" cy="1054" r="2.55" fill="#000"/>
<circle cx="305.3" cy="1054.5" r="2.55" fill="#000"/>
<circle cx="294.8" cy="1054" r="2.55" fill="#000"/>
<circle cx="302.4" cy="1053.9" r="2.55" fill="#000"/>
<circle cx="289" cy="1055.2" r="2.55" fill="#000"/>
<circle cx="296.9" cy="1053.2" r="2.55" fill="#000"/>
<circle cx="309.9" cy="1054.5" r="2.55" fill="#000"/>
<circle cx="111.9" cy="905.1" r="2.55" fill="#ff0a8c"/>
<circle cx="123.6" cy="997.4" r="2.55" fill="#ff0a8c"/>
<circle cx="198.4" cy="982.9" r="2.55" fill="#ff0a8c"/>
<circle cx="82" cy="1027.3" r="2.55" fill="#ff0a8c"/>
<circle cx="110.1" cy="1035.5" r="2.55" fill="#ff0a8c"/>
<circle cx="94.9" cy="1040.9" r="2.55" fill="#ff0a8c"/>
<circle cx="92.1" cy="1044.8" r="2.55" fill="#ff0a8c"/>
<circle cx="139.5" cy="1017.5" r="2.55" fill="#ff0a8c"/>
<circle cx="148.1" cy="1022.6" r="2.55" fill="#ff0a8c"/>
<circle cx="150.2" cy="1043" r="2.55" fill="#ff0a8c"/>
<circle cx="124.1" cy="1047.2" r="2.55" fill="#ff0a8c"/>
<circle cx="143.9" cy="1049" r="2.55" fill="#ff0a8c"/>
<circle cx="112.4" cy="1050.7" r="2.55" fill="#ff0a8c"/>
<circle cx="208.2" cy="1048.3" r="2.55" fill="#ff0a8c"/>
<circle cx="345.3" cy="908.1" r="2.55" fill="#ff0a8c"/>
<circle cx="353" cy="1002.3" r="2.55" fill="#ff0a8c"/>
<circle cx="284.6" cy="1047.6" r="2.55" fill="#ff0a8c"/>
<circle cx="328.5" cy="1049.2" r="2.55" fill="#ff0a8c"/>
<circle cx="344.2" cy="1046.4" r="2.55" fill="#ff0a8c"/>
<circle cx="346" cy="1046" r="2.55" fill="#ff0a8c"/>
<circle cx="340.7" cy="1049.9" r="2.55" fill="#ff0a8c"/>
<circle cx="423.6" cy="914" r="2.55" fill="#ff0a8c"/>
<circle cx="449.3" cy="1028.9" r="2.55" fill="#ff0a8c"/>
<circle cx="460.3" cy="1042.9" r="2.55" fill="#ff0a8c"/>
<circle cx="424.8" cy="1049.2" r="2.55" fill="#ff0a8c"/>
<circle cx="498.8" cy="1045.3" r="2.55" fill="#ff0a8c"/>
<circle cx="500.7" cy="1046.9" r="2.55" fill="#ff0a8c"/>
<circle cx="490.7" cy="1049.9" r="2.55" fill="#ff0a8c"/>
<circle cx="520.4" cy="1042.7" r="2.55" fill="#ff0a8c"/>
<circle cx="517.2" cy="1046.7" r="2.55" fill="#ff0a8c"/>
<circle cx="573.5" cy="1042.7" r="2.55" fill="#ff0a8c"/>
<circle cx="596.5" cy="1037.4" r="2.55" fill="#ff0a8c"/>
<circle cx="603.9" cy="1045.9" r="2.55" fill="#ff0a8c"/>
<circle cx="636.6" cy="1049.8" r="2.55" fill="#ff0a8c"/>
<circle cx="507.2" cy="1051.1" r="2.55" fill="#ff0a8c"/>
<circle cx="168.9" cy="1038.3" r="2.55" fill="#000"/>
<circle cx="171.5" cy="1041.8" r="2.55" fill="#000"/>
<circle cx="188.8" cy="1047.6" r="2.55" fill="#000"/>
<circle cx="180.1" cy="1049.5" r="2.55" fill="#000"/>
<circle cx="232" cy="907.5" r="2.55" fill="#000"/>
<circle cx="232.7" cy="999.2" r="2.55" fill="#000"/>
<circle cx="250" cy="1004.8" r="2.55" fill="#000"/>
<circle cx="254.9" cy="1023.1" r="2.55" fill="#000"/>
<circle cx="307.5" cy="1009.5" r="2.55" fill="#000"/>
<circle cx="287.6" cy="1038.5" r="2.55" fill="#000"/>
<circle cx="289.7" cy="1046.9" r="2.55" fill="#000"/>
<circle cx="304.9" cy="1048.3" r="2.55" fill="#000"/>
<circle cx="322.4" cy="1048.8" r="2.55" fill="#000"/>
<circle cx="429.8" cy="881" r="2.55" fill="#000"/>
<circle cx="428.7" cy="1033.1" r="2.55" fill="#000"/>
<circle cx="435.3" cy="1049.2" r="2.55" fill="#000"/>
<circle cx="476.6" cy="1046.9" r="2.55" fill="#000"/>
<circle cx="480.1" cy="1048.8" r="2.55" fill="#000"/>
<circle cx="385.5" cy="1050.6" r="2.55" fill="#000"/>
<circle cx="534.4" cy="963.2" r="2.55" fill="#000"/>
<circle cx="606.2" cy="990.9" r="2.55" fill="#000"/>
<circle cx="549.4" cy="1024.7" r="2.55" fill="#000"/>
<circle cx="551.6" cy="1022.6" r="2.55" fill="#000"/>
<circle cx="608.9" cy="1034.8" r="2.55" fill="#000"/>
<circle cx="565.6" cy="1041.4" r="2.55" fill="#000"/>
<circle cx="557.6" cy="1046.7" r="2.55" fill="#000"/>
<circle cx="547.1" cy="1048.5" r="2.55" fill="#000"/>
<circle cx="567.4" cy="1049.3" r="2.55" fill="#000"/>
<circle cx="607" cy="1048.5" r="2.55" fill="#000"/>
<rect x="55.2" y="848" width="627.3" height="215.9" fill="none" stroke="#525252" stroke-width="1.7"/>
<line x1="46.9" y1="1056.2" x2="55.2" y2="1056.2" stroke="#525252" stroke-width="1.7"/>
<text class="s w2" x="0" y="0" font-size="16.1" text-anchor="middle" transform="translate(41.4 1056.8) rotate(-90)">0</text>
<line x1="46.9" y1="1005.6" x2="55.2" y2="1005.6" stroke="#525252" stroke-width="1.7"/>
<text class="s w2" x="0" y="0" font-size="16.1" text-anchor="middle" transform="translate(41.4 1006.2) rotate(-90)">2</text>
<line x1="46.9" y1="955" x2="55.2" y2="955" stroke="#525252" stroke-width="1.7"/>
<text class="s w2" x="0" y="0" font-size="16.1" text-anchor="middle" transform="translate(41.4 955.6) rotate(-90)">4</text>
<line x1="46.9" y1="904.4" x2="55.2" y2="904.4" stroke="#525252" stroke-width="1.7"/>
<text class="s w2" x="0" y="0" font-size="16.1" text-anchor="middle" transform="translate(41.4 905) rotate(-90)">6</text>
<line x1="46.9" y1="853.8" x2="55.2" y2="853.8" stroke="#525252" stroke-width="1.7"/>
<text class="s w2" x="0" y="0" font-size="16.1" text-anchor="middle" transform="translate(41.4 854.4) rotate(-90)">8</text>
<line x1="115.9" y1="1063.9" x2="115.9" y2="1072.2" stroke="#525252" stroke-width="1.7"/>
<text class="s w3" x="0" y="0" font-size="13" font-weight="bold" text-anchor="middle" transform="translate(115.9 1087.9) scale(0.84 1)">1</text>
<line x1="171" y1="1063.9" x2="171" y2="1072.2" stroke="#525252" stroke-width="1.7"/>
<text class="s w3" x="0" y="0" font-size="13" font-weight="bold" text-anchor="middle" transform="translate(171 1087.9) scale(0.84 1)">2</text>
<line x1="208.2" y1="1063.9" x2="208.2" y2="1072.2" stroke="#525252" stroke-width="1.7"/>
<text class="s w3" x="0" y="0" font-size="13" font-weight="bold" text-anchor="middle" transform="translate(208.2 1087.9) scale(0.84 1)">3</text>
<line x1="242.3" y1="1063.9" x2="242.3" y2="1072.2" stroke="#525252" stroke-width="1.7"/>
<text class="s w3" x="0" y="0" font-size="13" font-weight="bold" text-anchor="middle" transform="translate(242.3 1087.9) scale(0.84 1)">4</text>
<line x1="273.4" y1="1063.9" x2="273.4" y2="1072.2" stroke="#525252" stroke-width="1.7"/>
<text class="s w3" x="0" y="0" font-size="13" font-weight="bold" text-anchor="middle" transform="translate(273.4 1087.9) scale(0.84 1)">5</text>
<line x1="304.9" y1="1063.9" x2="304.9" y2="1072.2" stroke="#525252" stroke-width="1.7"/>
<text class="s w3" x="0" y="0" font-size="13" font-weight="bold" text-anchor="middle" transform="translate(304.9 1087.9) scale(0.84 1)">6</text>
<line x1="339.5" y1="1063.9" x2="339.5" y2="1072.2" stroke="#525252" stroke-width="1.7"/>
<text class="s w3" x="0" y="0" font-size="13" font-weight="bold" text-anchor="middle" transform="translate(339.5 1087.9) scale(0.84 1)">7</text>
<line x1="374.2" y1="1063.9" x2="374.2" y2="1072.2" stroke="#525252" stroke-width="1.7"/>
<text class="s w3" x="0" y="0" font-size="13" font-weight="bold" text-anchor="middle" transform="translate(374.2 1087.9) scale(0.84 1)">8</text>
<line x1="408.6" y1="1063.9" x2="408.6" y2="1072.2" stroke="#525252" stroke-width="1.7"/>
<text class="s w3" x="0" y="0" font-size="13" font-weight="bold" text-anchor="middle" transform="translate(408.6 1087.9) scale(0.84 1)">9</text>
<line x1="438.2" y1="1063.9" x2="438.2" y2="1072.2" stroke="#525252" stroke-width="1.7"/>
<text class="s w3" x="0" y="0" font-size="13" font-weight="bold" text-anchor="middle" transform="translate(438.2 1087.9) scale(0.84 1)">10</text>
<line x1="456.8" y1="1063.9" x2="456.8" y2="1072.2" stroke="#525252" stroke-width="1.7"/>
<text class="s w3" x="0" y="0" font-size="13" font-weight="bold" text-anchor="middle" transform="translate(456.8 1087.9) scale(0.84 1)">11</text>
<line x1="474.4" y1="1063.9" x2="474.4" y2="1072.2" stroke="#525252" stroke-width="1.7"/>
<text class="s w3" x="0" y="0" font-size="13" font-weight="bold" text-anchor="middle" transform="translate(474.4 1087.9) scale(0.84 1)">12</text>
<line x1="508.7" y1="1063.9" x2="508.7" y2="1072.2" stroke="#525252" stroke-width="1.7"/>
<text class="s w3" x="0" y="0" font-size="13" font-weight="bold" text-anchor="middle" transform="translate(508.7 1087.9) scale(0.84 1)">13</text>
<line x1="551.5" y1="1063.9" x2="551.5" y2="1072.2" stroke="#525252" stroke-width="1.7"/>
<text class="s w3" x="0" y="0" font-size="13" font-weight="bold" text-anchor="middle" transform="translate(551.5 1087.9) scale(0.84 1)">14</text>
<line x1="586.7" y1="1063.9" x2="586.7" y2="1072.2" stroke="#525252" stroke-width="1.7"/>
<text class="s w3" x="0" y="0" font-size="13" font-weight="bold" text-anchor="middle" transform="translate(586.7 1087.9) scale(0.84 1)">15</text>
<line x1="617" y1="1063.9" x2="617" y2="1072.2" stroke="#525252" stroke-width="1.7"/>
<text class="s w3" x="0" y="0" font-size="13" font-weight="bold" text-anchor="middle" transform="translate(617 1087.9) scale(0.84 1)">16</text>
<line x1="636.2" y1="1063.9" x2="636.2" y2="1072.2" stroke="#525252" stroke-width="1.7"/>
<text class="s w3" x="0" y="0" font-size="13" font-weight="bold" text-anchor="middle" transform="translate(636.2 1087.9) scale(0.84 1)">17</text>
<line x1="652.3" y1="1063.9" x2="652.3" y2="1072.2" stroke="#525252" stroke-width="1.7"/>
<text class="s w3" x="0" y="0" font-size="13" font-weight="bold" text-anchor="middle" transform="translate(652.3 1087.9) scale(0.84 1)">18</text>
<text class="s w" x="368.9" y="1108.9" font-size="15.4" text-anchor="middle">Chromosome</text>
<text class="s w" x="0" y="0" font-size="16.1" text-anchor="middle" transform="translate(12.8 954.5) rotate(-90)">Variance Explained (%)</text>
<text class="s" x="15.4" y="851.5" font-size="17.4" font-weight="bold">d</text>
<text class="t" x="481.8" y="909.6" font-size="18.4" font-style="italic">PTGS2</text>
<text class="t" x="481.8" y="931.5" font-size="18.4" font-style="italic">PLA2G4A</text>
<polygon points="461.8,909.7 445.6,909.7 445.6,905.5 437.6,913.6 445.6,921.7 445.6,917.6 461.8,917.6" fill="#5b9bd5" stroke="#41719c" stroke-width="1.8"/>
<text class="t" x="364.5" y="971.7" font-size="18.4">LOC102167830</text>
<polygon points="494.4,959 511.1,959 511.1,955.1 519.2,963.2 511.1,971.3 511.1,967.3 494.4,967.3" fill="#5b9bd5" stroke="#41719c" stroke-width="1.8"/>
</g>
</svg></body></html>
